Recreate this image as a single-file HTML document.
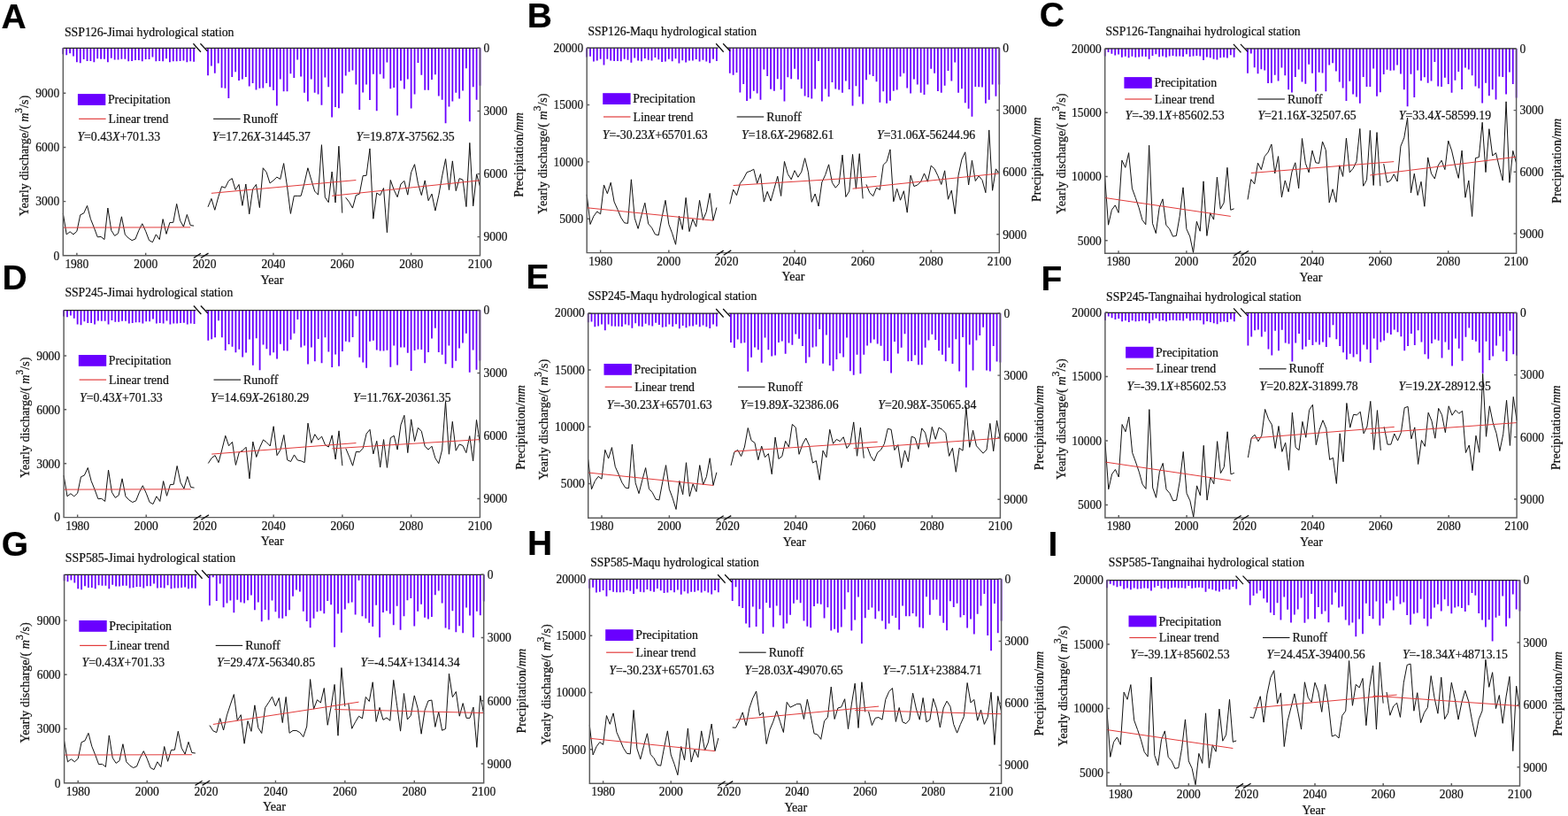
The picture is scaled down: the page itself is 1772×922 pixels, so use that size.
<!DOCTYPE html>
<html><head><meta charset="utf-8"><style>
html,body{margin:0;padding:0;background:#fff;}
svg{display:block;}
text{stroke:#111;stroke-width:0.22px;}
</style></head><body>
<svg width="1772" height="922" viewBox="0 0 1772 922" font-family="Liberation Serif, Times New Roman, serif" font-size="13" fill="#111">
<rect width="1772" height="922" fill="#fff"/>
<path d="M71.3 54.3v6.97M75.19 54.3v7.87M79.08 54.3v6.07M82.97 54.3v9.22M86.86 54.3v15.97M90.75 54.3v16.87M94.64 54.3v12.82M98.53 54.3v14.62M102.42 54.3v14.62M106.31 54.3v15.97M110.2 54.3v11.92M114.09 54.3v12.37M117.98 54.3v12.37M121.87 54.3v15.97M125.76 54.3v11.47M129.65 54.3v13.27M133.54 54.3v13.27M137.43 54.3v12.37M141.32 54.3v12.37M145.21 54.3v15.07M149.1 54.3v14.62M152.99 54.3v13.72M156.88 54.3v13.72M160.77 54.3v15.07M164.66 54.3v12.82M168.55 54.3v12.82M172.44 54.3v10.12M176.33 54.3v15.07M180.22 54.3v14.62M184.11 54.3v15.07M188 54.3v11.92M191.89 54.3v15.97M195.78 54.3v15.07M199.67 54.3v15.07M203.56 54.3v14.62M207.45 54.3v14.17M211.34 54.3v15.97M215.23 54.3v15.07M219.12 54.3v15.52M235 54.3V85.13M238.89 54.3V74.4M242.78 54.3V82.69M246.68 54.3V71.47M250.57 54.3V99.28M254.46 54.3V99.77M258.35 54.3V110.99M262.25 54.3V87.08M266.14 54.3V81.23M270.03 54.3V90.99M273.92 54.3V89.52M277.82 54.3V86.89M281.71 54.3V97.62M285.6 54.3V93.92M289.49 54.3V101.53M293.39 54.3V99.77M297.28 54.3V99.58M301.17 54.3V94.11M305.06 54.3V98.31M308.96 54.3V102.02M312.85 54.3V119.48M316.74 54.3V89.52M320.63 54.3V103.19M324.53 54.3V103.19M328.42 54.3V83.18M332.31 54.3V88.06M336.2 54.3V67.57M340.09 54.3V86.6M343.99 54.3V104.65M347.88 54.3V114.41M351.77 54.3V89.52M355.66 54.3V104.85M359.56 54.3V106.6M363.45 54.3V118.8M367.34 54.3V87.38M371.23 54.3V98.31M375.13 54.3V132.46M379.02 54.3V121.05M382.91 54.3V122.22M386.8 54.3V105.43M390.7 54.3V85.62M394.59 54.3V81.23M398.48 54.3V79.47M402.37 54.3V95.38M406.27 54.3V123.97M410.16 54.3V104.45M414.05 54.3V95.38M417.94 54.3V112.95M421.84 54.3V83.67M425.73 54.3V125.34M429.62 54.3V83.67M433.51 54.3V88.84M437.41 54.3V70.49M441.3 54.3V100.26M445.19 54.3V98.99M449.08 54.3V130.51M452.97 54.3V91.18M456.87 54.3V100.55M460.76 54.3V89.52M464.65 54.3V122.41M468.54 54.3V106.41M472.44 54.3V70.98M476.33 54.3V84.64M480.22 54.3V101.72M484.11 54.3V101.72M488.01 54.3V90.01M491.9 54.3V84.35M495.79 54.3V108.55M499.68 54.3V112.65M503.58 54.3V139.29M507.47 54.3V120.46M511.36 54.3V114.6M515.25 54.3V104.65M519.15 54.3V111.48M523.04 54.3V102.5M526.93 54.3V77.13M530.82 54.3V137.34M534.72 54.3V98.31M538.61 54.3V112.65M542.5 54.3V96.84" stroke="#6a00ff" stroke-width="1.8" fill="none"/>
<polyline points="71.3,241.21 75.19,264.91 79.08,261.82 82.97,264.91 86.86,261.3 90.75,242.76 94.64,241.01 98.53,232.45 102.42,247.39 106.31,257.18 110.2,267.79 114.09,267.48 117.98,270.57 121.87,235.03 125.76,260.27 129.65,266.45 133.54,263.67 137.43,244.82 141.32,264.91 145.21,269.03 149.1,271.61 152.99,270.06 156.88,260.27 160.77,252.75 164.66,261.3 168.55,271.61 172.44,273.67 176.33,264.91 180.22,270.57 184.11,247.6 188,264.39 191.89,251.51 195.78,251.31 199.67,230.39 203.56,249.25 207.45,256.15 211.34,242.45 215.23,254.61 219.12,255.12" fill="none" stroke="#111" stroke-width="1"/>
<polyline points="235,233.81 238.89,224.4 242.78,237.31 246.68,222.88 250.57,210.73 254.46,212.25 258.35,204.36 262.25,201.62 266.14,214.53 270.03,208.46 273.92,232.3 277.82,208 281.71,241.86 285.6,213.77 289.49,208.46 293.39,234.57 297.28,189.78 301.17,194.79 305.06,206.94 308.96,203.9 312.85,200.11 316.74,202.38 320.63,184.62 324.53,210.73 328.42,241.41 332.31,221.36 336.2,221.36 340.09,221.36 343.99,206.94 347.88,189.78 351.77,203.14 355.66,216.05 359.56,220.15 363.45,163.67 367.34,222.88 371.23,228.65 375.13,194.03 379.02,228.96 382.91,165.18 386.8,240.65" fill="none" stroke="#111" stroke-width="1"/>
<polyline points="390.7,223.22 394.59,228.23 398.48,235.07 402.37,220.64 406.27,219.12 410.16,198.61 414.05,198.31 417.94,167.92 421.84,247.22 425.73,218.05 429.62,220.64 433.51,212.59 437.41,262.71 441.3,203.47 445.19,214.56 449.08,222.61 452.97,208.03 456.87,204.38 460.76,220.18 464.65,194.81 468.54,185.7 472.44,207.42 476.33,220.64 480.22,203.93 484.11,226.71 488.01,219.12 491.9,238.11 495.79,220.64 499.68,198.91 503.58,179.62 507.47,214.56 511.36,181.9 515.25,215.62 519.15,201.65 523.04,203.17 526.93,233.55 530.82,161.39 534.72,232.79 538.61,196.79 542.5,210.76" fill="none" stroke="#111" stroke-width="1"/>
<line x1="71.3" y1="257.16" x2="215.23" y2="256.83" stroke="#e23b3b" stroke-width="1"/>
<line x1="238.89" y1="218.33" x2="402.37" y2="203.54" stroke="#e23b3b" stroke-width="1"/>
<line x1="375.13" y1="221.27" x2="542.5" y2="203.84" stroke="#e23b3b" stroke-width="1"/>
<path d="M71.3 54.3H220.92M232.3 54.3H542.5" stroke="#222" stroke-width="1.25" fill="none"/>
<path d="M71.3 54.3V288.8H542.5V54.3M71.3 288.8h3M71.3 227.6h3M71.3 166.4h3M71.3 105.2h3M542.5 54.3h-3M542.5 125.4h-3M542.5 196.5h-3M542.5 267.6h-3M86.86 288.8v-3M164.66 288.8v-3M308.96 288.8v-3M386.8 288.8v-3M464.65 288.8v-3" stroke="#5c5c5c" stroke-width="1.45" fill="none"/>
<path d="M218.42 49.3l8.5 9.5M226.42 49.3l8 8.5M218.92 291.5l8 -5.2M226.92 291.5l8.6 -5.4" stroke="#111" stroke-width="1.3" fill="none"/>
<text transform="translate(67.3,293.6) scale(0.9,1)" font-size="15" text-anchor="end">0</text>
<text transform="translate(67.3,232.4) scale(0.9,1)" font-size="15" text-anchor="end">3000</text>
<text transform="translate(67.3,171.2) scale(0.9,1)" font-size="15" text-anchor="end">6000</text>
<text transform="translate(67.3,110) scale(0.9,1)" font-size="15" text-anchor="end">9000</text>
<text transform="translate(546.5,59.1) scale(0.9,1)" font-size="15">0</text>
<text transform="translate(546.5,130.2) scale(0.9,1)" font-size="15">3000</text>
<text transform="translate(546.5,201.3) scale(0.9,1)" font-size="15">6000</text>
<text transform="translate(546.5,272.4) scale(0.9,1)" font-size="15">9000</text>
<text transform="translate(86.86,302.8) scale(0.9,1)" font-size="15" text-anchor="middle">1980</text>
<text transform="translate(164.66,302.8) scale(0.9,1)" font-size="15" text-anchor="middle">2000</text>
<text transform="translate(231.11,302.8) scale(0.9,1)" font-size="15" text-anchor="middle">2020</text>
<text transform="translate(308.96,302.8) scale(0.9,1)" font-size="15" text-anchor="middle">2040</text>
<text transform="translate(386.8,302.8) scale(0.9,1)" font-size="15" text-anchor="middle">2060</text>
<text transform="translate(464.65,302.8) scale(0.9,1)" font-size="15" text-anchor="middle">2080</text>
<text transform="translate(542.5,302.8) scale(0.9,1)" font-size="15" text-anchor="middle">2100</text>
<text x="307.46" y="320.5" text-anchor="middle" font-size="14">Year</text>
<text transform="translate(31.9,176) rotate(-90)" text-anchor="middle" font-size="14.1">Yearly discharge/( <tspan font-style="italic">m</tspan><tspan font-size="11.5" dy="-7">3</tspan><tspan dy="7">/s)</tspan></text>
<text transform="translate(591.3,175) rotate(-90)" text-anchor="middle" font-size="14">Precipitation/<tspan font-style="italic">mm</tspan></text>
<text x="72.9" y="40.5" font-size="13.8">SSP126-Jimai hydrological station</text>
<text x="1.6" y="31.7" font-family="Liberation Sans, Arial, sans-serif" font-weight="bold" font-size="39" fill="#000" stroke="#000">A</text>
<rect x="87.9" y="106.1" width="31.4" height="12.8" fill="#6a00ff"/>
<text x="121.9" y="117.1" font-size="13.85">Precipitation</text>
<line x1="89.1" y1="134.3" x2="119.6" y2="134.3" stroke="#e23b3b" stroke-width="1.2"/>
<text x="122.6" y="138.8" font-size="13.8">Linear trend</text>
<line x1="241.1" y1="134.3" x2="271.6" y2="134.3" stroke="#111" stroke-width="1.1"/>
<text x="274.6" y="138.8" font-size="14">Runoff</text>
<text transform="translate(87.4,158.6) scale(0.978,1)" font-size="14.1"><tspan font-style="italic">Y</tspan>=0.43<tspan font-style="italic">X</tspan>+701.33</text>
<text transform="translate(239.8,158.6) scale(0.978,1)" font-size="14.1"><tspan font-style="italic">Y</tspan>=17.26<tspan font-style="italic">X</tspan>-31445.37</text>
<text transform="translate(402.5,158.6) scale(0.978,1)" font-size="14.1"><tspan font-style="italic">Y</tspan>=19.87<tspan font-style="italic">X</tspan>-37562.35</text>
<path d="M663.2 54.2v10.35M667.06 54.2v9.44M670.92 54.2v15.31M674.78 54.2v14.41M678.64 54.2v12.6M682.5 54.2v19.38M686.36 54.2v12.6M690.22 54.2v14.41M694.08 54.2v14.86M697.94 54.2v14.86M701.8 54.2v15.04M705.66 54.2v12.6M709.52 54.2v13.51M713.38 54.2v16.67M717.24 54.2v11.25M721.1 54.2v14.41M724.96 54.2v15.04M728.82 54.2v11.7M732.68 54.2v13.51M736.54 54.2v14.41M740.4 54.2v10.8M744.26 54.2v13.06M748.12 54.2v15.76M751.98 54.2v15.31M755.84 54.2v12.6M759.7 54.2v15.04M763.56 54.2v12.15M767.42 54.2v17.39M771.28 54.2v13.96M775.14 54.2v16.22M779 54.2v14.41M782.86 54.2v14.41M786.72 54.2v12.88M790.58 54.2v15.31M794.44 54.2v13.51M798.3 54.2v15.31M802.16 54.2v17.12M806.02 54.2v12.6M809.88 54.2v14.86M824.8 54.2V82.69M828.65 54.2V84.64M832.51 54.2V82.01M836.36 54.2V104.45M840.22 54.2V95.09M844.07 54.2V113.92M847.93 54.2V111.48M851.78 54.2V102.7M855.64 54.2V105.43M859.49 54.2V112.65M863.34 54.2V78.5M867.2 54.2V85.91M871.05 54.2V100.75M874.91 54.2V102.7M878.76 54.2V89.23M882.62 54.2V101.23M886.47 54.2V114.41M890.33 54.2V87.28M894.18 54.2V89.23M898.03 54.2V77.81M901.89 54.2V89.82M905.74 54.2V100.26M909.6 54.2V108.55M913.45 54.2V110.02M917.31 54.2V111.48M921.16 54.2V100.55M925.02 54.2V69.03M928.87 54.2V114.41M932.72 54.2V100.55M936.58 54.2V109.33M940.43 54.2V92.94M944.29 54.2V100.55M948.14 54.2V101.53M952 54.2V104.65M955.85 54.2V91.48M959.71 54.2V100.94M963.56 54.2V119.48M967.41 54.2V97.33M971.27 54.2V109.33M975.12 54.2V117.53M978.98 54.2V90.21M982.83 54.2V84.35M986.69 54.2V85.91M990.54 54.2V92.16M994.39 54.2V115.87M998.25 54.2V103.19M1002.1 54.2V116.85M1005.96 54.2V113.63M1009.81 54.2V102.7M1013.67 54.2V101.53M1017.52 54.2V86.6M1021.38 54.2V82.69M1025.23 54.2V99.58M1029.08 54.2V105.43M1032.94 54.2V89.52M1036.79 54.2V95.38M1040.65 54.2V104.65M1044.5 54.2V107.09M1048.36 54.2V95.38M1052.21 54.2V77.81M1056.07 54.2V82.69M1059.92 54.2V102.89M1063.77 54.2V104.85M1067.63 54.2V96.84M1071.48 54.2V80.06M1075.34 54.2V91.48M1079.19 54.2V70.49M1083.05 54.2V104.65M1086.9 54.2V100.26M1090.76 54.2V116.36M1094.61 54.2V122.7M1098.46 54.2V131.78M1102.32 54.2V98.01M1106.17 54.2V98.31M1110.03 54.2V98.6M1113.88 54.2V116.85M1117.74 54.2V112.65M1121.59 54.2V95.38M1125.45 54.2V108.75M1129.3 54.2V95.38" stroke="#6a00ff" stroke-width="1.8" fill="none"/>
<polyline points="663.2,219.83 667.06,253.46 670.92,244.24 674.78,239.03 678.64,241.85 682.5,208.98 686.36,218.75 690.22,206.27 694.08,227.97 697.94,236.65 701.8,245.87 705.66,251.84 709.52,252.38 713.38,202.8 717.24,246.41 721.1,258.35 724.96,243.16 728.82,229.27 732.68,252.92 736.54,257.26 740.4,264.85 744.26,265.72 748.12,245.33 751.98,226.34 755.84,253.46 759.7,263.77 763.56,276.25 767.42,244.02 771.28,259.43 775.14,223.41 779,261.6 782.86,247.5 786.72,256.18 790.58,226.34 794.44,248.58 798.3,239.36 802.16,218.42 806.02,249.12 809.88,234.48" fill="none" stroke="#111" stroke-width="1"/>
<polyline points="824.8,230.46 828.65,214.16 832.51,220.7 836.36,207.33 840.22,202.16 844.07,194.64 847.93,193.38 851.78,191.23 855.64,207.33 859.49,196.6 863.34,228.12 867.2,216.41 871.05,227.14 874.91,213.19 878.76,199.23 882.62,221.48 886.47,182.45 890.33,196.6 894.18,202.74 898.03,192.69 901.89,200.21 905.74,194.16 909.6,178.74 913.45,194.64 917.31,228.31 921.16,219.04 925.02,233 928.87,205.87 932.72,197.57 936.58,185.86 940.43,206.36 944.29,212.21 948.14,207.62 952,175.13 955.85,222.46 959.71,216.11 963.56,174.44 967.41,213.19 971.27,173.66 975.12,224.41" fill="none" stroke="#111" stroke-width="1"/>
<polyline points="978.98,208.43 982.83,217.7 986.69,221.61 990.54,212.14 994.39,214.48 998.25,186.18 1002.1,182.57 1005.96,168.91 1009.81,227.76 1013.67,213.31 1017.52,226.19 1021.38,215.75 1025.23,240.15 1029.08,198.19 1032.94,210.58 1036.79,208.92 1040.65,205.31 1044.5,195.94 1048.36,205.31 1052.21,187.16 1056.07,190.67 1059.92,198.67 1063.77,208.43 1067.63,192.82 1071.48,225.22 1075.34,215.07 1079.19,241.61 1083.05,198.19 1086.9,180.13 1090.76,171.84 1094.61,208.92 1098.46,181.3 1102.32,204.53 1106.17,198.87 1110.03,203.55 1113.88,217.7 1117.74,146.95 1121.59,215.26 1125.45,190.87 1129.3,195.75" fill="none" stroke="#111" stroke-width="1"/>
<line x1="663.2" y1="234.76" x2="806.02" y2="249.15" stroke="#e23b3b" stroke-width="1"/>
<line x1="828.65" y1="209.54" x2="990.54" y2="199.49" stroke="#e23b3b" stroke-width="1"/>
<line x1="963.56" y1="213.16" x2="1129.3" y2="195.98" stroke="#e23b3b" stroke-width="1"/>
<path d="M663.2 54.2H811.68M822.1 54.2H1129.3" stroke="#222" stroke-width="1.25" fill="none"/>
<path d="M663.2 54.2V285.6H1129.3V54.2M663.2 247.2h3M663.2 182.87h3M663.2 118.53h3M663.2 54.2h3M1129.3 54.2h-3M1129.3 124.4h-3M1129.3 194.6h-3M1129.3 264.8h-3M678.64 285.6v-3M755.84 285.6v-3M898.03 285.6v-3M975.12 285.6v-3M1052.21 285.6v-3" stroke="#5c5c5c" stroke-width="1.45" fill="none"/>
<path d="M809.18 49.2l8.5 9.5M817.18 49.2l8 8.5M809.68 288.3l8 -5.2M817.68 288.3l8.6 -5.4" stroke="#111" stroke-width="1.3" fill="none"/>
<text transform="translate(659.2,252) scale(0.9,1)" font-size="15" text-anchor="end">5000</text>
<text transform="translate(659.2,187.67) scale(0.9,1)" font-size="15" text-anchor="end">10000</text>
<text transform="translate(659.2,123.33) scale(0.9,1)" font-size="15" text-anchor="end">15000</text>
<text transform="translate(659.2,59) scale(0.9,1)" font-size="15" text-anchor="end">20000</text>
<text transform="translate(1133.3,59) scale(0.9,1)" font-size="15">0</text>
<text transform="translate(1133.3,129.2) scale(0.9,1)" font-size="15">3000</text>
<text transform="translate(1133.3,199.4) scale(0.9,1)" font-size="15">6000</text>
<text transform="translate(1133.3,269.6) scale(0.9,1)" font-size="15">9000</text>
<text transform="translate(678.64,299.6) scale(0.9,1)" font-size="15" text-anchor="middle">1980</text>
<text transform="translate(755.84,299.6) scale(0.9,1)" font-size="15" text-anchor="middle">2000</text>
<text transform="translate(820.95,299.6) scale(0.9,1)" font-size="15" text-anchor="middle">2020</text>
<text transform="translate(898.03,299.6) scale(0.9,1)" font-size="15" text-anchor="middle">2040</text>
<text transform="translate(975.12,299.6) scale(0.9,1)" font-size="15" text-anchor="middle">2060</text>
<text transform="translate(1052.21,299.6) scale(0.9,1)" font-size="15" text-anchor="middle">2080</text>
<text transform="translate(1129.3,299.6) scale(0.9,1)" font-size="15" text-anchor="middle">2100</text>
<text x="896.53" y="317.3" text-anchor="middle" font-size="14">Year</text>
<text transform="translate(618,173.7) rotate(-90)" text-anchor="middle" font-size="14.1">Yearly discharge/( <tspan font-style="italic">m</tspan><tspan font-size="11.5" dy="-7">3</tspan><tspan dy="7">/s)</tspan></text>
<text transform="translate(1176.4,180.2) rotate(-90)" text-anchor="middle" font-size="14">Precipitation/<tspan font-style="italic">mm</tspan></text>
<text x="664.5" y="40" font-size="13.56">SSP126-Maqu hydrological station</text>
<text x="595.85" y="30.9" font-family="Liberation Sans, Arial, sans-serif" font-weight="bold" font-size="39" fill="#000" stroke="#000">B</text>
<rect x="681.2" y="105.2" width="31.4" height="12.8" fill="#6a00ff"/>
<text x="715.2" y="116.2" font-size="13.85">Precipitation</text>
<line x1="682" y1="132" x2="712.5" y2="132" stroke="#e23b3b" stroke-width="1.2"/>
<text x="715.5" y="136.5" font-size="13.8">Linear trend</text>
<line x1="832.7" y1="132" x2="863.2" y2="132" stroke="#111" stroke-width="1.1"/>
<text x="866.2" y="136.5" font-size="14">Runoff</text>
<text transform="translate(680.7,157.1) scale(0.978,1)" font-size="14.1"><tspan font-style="italic">Y</tspan>=-30.23<tspan font-style="italic">X</tspan>+65701.63</text>
<text transform="translate(838.1,157.1) scale(0.978,1)" font-size="14.1"><tspan font-style="italic">Y</tspan>=18.6<tspan font-style="italic">X</tspan>-29682.61</text>
<text transform="translate(991,157.1) scale(0.978,1)" font-size="14.1"><tspan font-style="italic">Y</tspan>=31.06<tspan font-style="italic">X</tspan>-56244.96</text>
<path d="M1248.7 54.9v8.64M1252.54 54.9v4.13M1256.38 54.9v5.75M1260.22 54.9v7.56M1264.06 54.9v6.66M1267.9 54.9v9.73M1271.74 54.9v8.82M1275.58 54.9v10.45M1279.42 54.9v8.82M1283.26 54.9v9.73M1287.1 54.9v9.55M1290.94 54.9v8.82M1294.78 54.9v9.1M1298.62 54.9v11.8M1302.46 54.9v8.19M1306.3 54.9v6.39M1310.14 54.9v9.37M1313.98 54.9v8.64M1317.82 54.9v9.73M1321.66 54.9v8.64M1325.5 54.9v8.19M1329.34 54.9v8.82M1333.18 54.9v8.64M1337.02 54.9v9.1M1340.86 54.9v6.39M1344.7 54.9v9.1M1348.54 54.9v8.64M1352.38 54.9v8.19M1356.22 54.9v8.64M1360.06 54.9v12.98M1363.9 54.9v9.55M1367.74 54.9v10.45M1371.58 54.9v11.8M1375.42 54.9v12.71M1379.26 54.9v10.27M1383.1 54.9v9.73M1386.94 54.9v10.63M1390.78 54.9v7.29M1394.62 54.9v9.73M1410 54.9V82.69M1413.84 54.9V60.54M1417.69 54.9V76.15M1421.53 54.9V83.18M1425.37 54.9V78.3M1429.22 54.9V79.47M1433.06 54.9V94.11M1436.9 54.9V93.72M1440.74 54.9V84.64M1444.59 54.9V91.48M1448.43 54.9V76.54M1452.27 54.9V85.13M1456.12 54.9V101.23M1459.96 54.9V104.45M1463.8 54.9V86.89M1467.65 54.9V78.5M1471.49 54.9V92.45M1475.33 54.9V94.7M1479.17 54.9V72.64M1483.02 54.9V82.69M1486.86 54.9V103.48M1490.7 54.9V81.72M1494.55 54.9V82.4M1498.39 54.9V103.19M1502.23 54.9V73.42M1506.08 54.9V71.27M1509.92 54.9V80.45M1513.76 54.9V92.45M1517.61 54.9V99.58M1521.45 54.9V113.92M1525.29 54.9V91.77M1529.13 54.9V106.41M1532.98 54.9V109.53M1536.82 54.9V116.85M1540.66 54.9V86.89M1544.51 54.9V98.01M1548.35 54.9V98.01M1552.19 54.9V77.52M1556.04 54.9V108.75M1559.88 54.9V104.16M1563.72 54.9V83.96M1567.56 54.9V78.79M1571.41 54.9V79.76M1575.25 54.9V79.47M1579.09 54.9V73.42M1582.94 54.9V83.38M1586.78 54.9V101.23M1590.62 54.9V120.26M1594.47 54.9V83.67M1598.31 54.9V110.02M1602.15 54.9V79.47M1605.99 54.9V91.18M1609.84 54.9V87.28M1613.68 54.9V93.72M1617.52 54.9V91.48M1621.37 54.9V70.01M1625.21 54.9V97.62M1629.05 54.9V98.01M1632.9 54.9V87.86M1636.74 54.9V95.09M1640.58 54.9V104.65M1644.43 54.9V90.79M1648.27 54.9V81.03M1652.11 54.9V100.94M1655.95 54.9V76.54M1659.8 54.9V78.5M1663.64 54.9V85.13M1667.48 54.9V97.62M1671.33 54.9V99.77M1675.17 54.9V116.56M1679.01 54.9V93.72M1682.86 54.9V108.36M1686.7 54.9V101.23M1690.54 54.9V112.46M1694.38 54.9V86.6M1698.23 54.9V86.89M1702.07 54.9V106.41M1705.91 54.9V81.42M1709.76 54.9V95.09M1713.6 54.9V110.51" stroke="#6a00ff" stroke-width="1.8" fill="none"/>
<polyline points="1248.7,200.88 1252.54,254.16 1256.38,237.25 1260.22,231.89 1264.06,240.35 1267.9,181.14 1271.74,189.32 1275.58,172.69 1279.42,212.86 1283.26,223.43 1287.1,234.71 1290.94,248.53 1294.78,253.74 1298.62,164.23 1302.46,252.33 1306.3,263.61 1310.14,234.71 1313.98,224.84 1317.82,254.16 1321.66,258.67 1325.5,267.13 1329.34,266.43 1333.18,244.3 1337.02,211.87 1340.86,258.67 1344.7,267.13 1348.54,285.46 1352.38,250.22 1356.22,261.21 1360.06,204.83 1363.9,266.43 1367.74,240.63 1371.58,248.1 1375.42,200.17 1379.26,236.12 1383.1,229.07 1386.94,189.32 1390.78,237.25 1394.62,235.84" fill="none" stroke="#111" stroke-width="1"/>
<polyline points="1410,225.44 1413.84,202.66 1417.69,207.87 1421.53,184.19 1425.37,191.6 1429.22,176.64 1433.06,172.09 1436.9,162.98 1440.74,195.9 1444.59,176.64 1448.43,222.83 1452.27,203.97 1456.12,216.72 1459.96,194.21 1463.8,183.8 1467.65,212.81 1471.49,156.47 1475.33,184.45 1479.17,194.86 1483.02,170.13 1486.86,183.8 1490.7,184.45 1494.55,159.98 1498.39,169.87 1502.23,228.95 1506.08,213.72 1509.92,228.43 1513.76,186.79 1517.61,199.41 1521.45,156.08 1525.29,194.86 1529.13,190.3 1532.98,182.5 1536.82,145.41 1540.66,210.21 1544.51,203.31 1548.35,147.36 1552.19,209.43 1556.04,149.57 1559.88,210.21" fill="none" stroke="#111" stroke-width="1"/>
<polyline points="1563.72,185.1 1567.56,205.92 1571.41,203.97 1575.25,196.81 1579.09,205.01 1582.94,165.19 1586.78,155.82 1590.62,133.18 1594.47,218.02 1598.31,196.16 1602.15,220.62 1605.99,205.27 1609.84,233.24 1613.68,177.94 1617.52,196.16 1621.37,202.01 1625.21,187.05 1629.05,181.19 1632.9,191.6 1636.74,159.07 1640.58,170.13 1644.43,187.05 1648.27,201.36 1652.11,170.13 1655.95,223.22 1659.8,203.97 1663.64,244.56 1667.48,178.59 1671.33,177.68 1675.17,138.25 1679.01,194.6 1682.86,145.67 1686.7,175.99 1690.54,172.74 1694.38,189 1698.23,203.97 1702.07,114.83 1705.91,206.31 1709.76,170.39 1713.6,184.45" fill="none" stroke="#111" stroke-width="1"/>
<line x1="1248.7" y1="223.49" x2="1390.78" y2="244.41" stroke="#e23b3b" stroke-width="1"/>
<line x1="1413.84" y1="195.48" x2="1575.25" y2="182.63" stroke="#e23b3b" stroke-width="1"/>
<line x1="1548.35" y1="197.99" x2="1713.6" y2="177.22" stroke="#e23b3b" stroke-width="1"/>
<path d="M1248.7 54.9H1396.42M1407.3 54.9H1713.6" stroke="#222" stroke-width="1.25" fill="none"/>
<path d="M1248.7 54.9V286.2H1713.6V54.9M1248.7 271.8h3M1248.7 199.5h3M1248.7 127.2h3M1248.7 54.9h3M1713.6 54.9h-3M1713.6 124.6h-3M1713.6 194.3h-3M1713.6 264h-3M1264.06 286.2v-3M1340.86 286.2v-3M1483.02 286.2v-3M1559.88 286.2v-3M1636.74 286.2v-3" stroke="#5c5c5c" stroke-width="1.45" fill="none"/>
<path d="M1393.92 49.9l8.5 9.5M1401.92 49.9l8 8.5M1394.42 288.9l8 -5.2M1402.42 288.9l8.6 -5.4" stroke="#111" stroke-width="1.3" fill="none"/>
<text transform="translate(1244.7,276.6) scale(0.9,1)" font-size="15" text-anchor="end">5000</text>
<text transform="translate(1244.7,204.3) scale(0.9,1)" font-size="15" text-anchor="end">10000</text>
<text transform="translate(1244.7,132) scale(0.9,1)" font-size="15" text-anchor="end">15000</text>
<text transform="translate(1244.7,59.7) scale(0.9,1)" font-size="15" text-anchor="end">20000</text>
<text transform="translate(1717.6,59.7) scale(0.9,1)" font-size="15">0</text>
<text transform="translate(1717.6,129.4) scale(0.9,1)" font-size="15">3000</text>
<text transform="translate(1717.6,199.1) scale(0.9,1)" font-size="15">6000</text>
<text transform="translate(1717.6,268.8) scale(0.9,1)" font-size="15">9000</text>
<text transform="translate(1264.06,300.2) scale(0.9,1)" font-size="15" text-anchor="middle">1980</text>
<text transform="translate(1340.86,300.2) scale(0.9,1)" font-size="15" text-anchor="middle">2000</text>
<text transform="translate(1406.16,300.2) scale(0.9,1)" font-size="15" text-anchor="middle">2020</text>
<text transform="translate(1483.02,300.2) scale(0.9,1)" font-size="15" text-anchor="middle">2040</text>
<text transform="translate(1559.88,300.2) scale(0.9,1)" font-size="15" text-anchor="middle">2060</text>
<text transform="translate(1636.74,300.2) scale(0.9,1)" font-size="15" text-anchor="middle">2080</text>
<text transform="translate(1713.6,300.2) scale(0.9,1)" font-size="15" text-anchor="middle">2100</text>
<text x="1481.52" y="317.9" text-anchor="middle" font-size="14">Year</text>
<text transform="translate(1203.5,173.8) rotate(-90)" text-anchor="middle" font-size="14.1">Yearly discharge/( <tspan font-style="italic">m</tspan><tspan font-size="11.5" dy="-7">3</tspan><tspan dy="7">/s)</tspan></text>
<text transform="translate(1764,181.8) rotate(-90)" text-anchor="middle" font-size="14">Precipitation/<tspan font-style="italic">mm</tspan></text>
<text x="1249.5" y="39.7" font-size="13.63">SSP126-Tangnaihai hydrological station</text>
<text x="1174.75" y="29.9" font-family="Liberation Sans, Arial, sans-serif" font-weight="bold" font-size="39" fill="#000" stroke="#000">C</text>
<rect x="1270.4" y="87.1" width="31.4" height="12.8" fill="#6a00ff"/>
<text x="1304.4" y="98.1" font-size="13.85">Precipitation</text>
<line x1="1271.2" y1="112" x2="1301.7" y2="112" stroke="#e23b3b" stroke-width="1.2"/>
<text x="1304.7" y="116.5" font-size="13.8">Linear trend</text>
<line x1="1421.4" y1="112" x2="1451.9" y2="112" stroke="#111" stroke-width="1.1"/>
<text x="1454.9" y="116.5" font-size="14">Runoff</text>
<text transform="translate(1271.6,135) scale(0.978,1)" font-size="14.1"><tspan font-style="italic">Y</tspan>=-39.1<tspan font-style="italic">X</tspan>+85602.53</text>
<text transform="translate(1421.4,134.6) scale(0.978,1)" font-size="14.1"><tspan font-style="italic">Y</tspan>=21.16<tspan font-style="italic">X</tspan>-32507.65</text>
<text transform="translate(1580.8,134.6) scale(0.978,1)" font-size="14.1"><tspan font-style="italic">Y</tspan>=33.4<tspan font-style="italic">X</tspan>-58599.19</text>
<path d="M72.1 350.5v6.96M75.98 350.5v7.86M79.86 350.5v6.06M83.74 350.5v9.21M87.62 350.5v15.95M91.5 350.5v16.85M95.38 350.5v12.8M99.26 350.5v14.6M103.14 350.5v14.6M107.02 350.5v15.95M110.9 350.5v11.9M114.78 350.5v12.35M118.66 350.5v12.35M122.54 350.5v15.95M126.42 350.5v11.45M130.3 350.5v13.25M134.18 350.5v13.25M138.06 350.5v12.35M141.94 350.5v12.35M145.82 350.5v15.05M149.7 350.5v14.6M153.58 350.5v13.7M157.46 350.5v13.7M161.34 350.5v15.05M165.22 350.5v12.8M169.1 350.5v12.8M172.98 350.5v10.1M176.86 350.5v15.05M180.74 350.5v14.6M184.62 350.5v15.05M188.5 350.5v11.9M192.38 350.5v15.95M196.26 350.5v15.05M200.14 350.5v15.05M204.02 350.5v14.6M207.9 350.5v14.15M211.78 350.5v15.95M215.66 350.5v15.05M219.54 350.5v15.5M235.3 350.5V384.82M239.19 350.5V383.26M243.07 350.5V381.3M246.96 350.5V362.37M250.85 350.5V381.3M254.74 350.5V395.94M258.62 350.5V389.11M262.51 350.5V391.65M266.4 350.5V398.19M270.29 350.5V394.77M274.17 350.5V403.55M278.06 350.5V398.48M281.95 350.5V383.55M285.84 350.5V412.82M289.72 350.5V382.28M293.61 350.5V418.19M297.5 350.5V389.4M301.38 350.5V394.28M305.27 350.5V401.41M309.16 350.5V398.19M313.05 350.5V405.51M316.93 350.5V388.72M320.82 350.5V396.23M324.71 350.5V396.53M328.6 350.5V383.84M332.48 350.5V376.72M336.37 350.5V361.1M340.26 350.5V392.62M344.15 350.5V390.38M348.03 350.5V411.56M351.92 350.5V392.62M355.81 350.5V408.24M359.69 350.5V383.06M363.58 350.5V410.19M367.47 350.5V381.3M371.36 350.5V397.5M375.24 350.5V415.07M379.13 350.5V400.43M383.02 350.5V413.8M386.91 350.5V396.92M390.79 350.5V385.79M394.68 350.5V386.48M398.57 350.5V380.91M402.46 350.5V357.2M406.34 350.5V403.75M410.23 350.5V409.6M414.12 350.5V415.75M418.01 350.5V385.79M421.89 350.5V384.82M425.78 350.5V395.55M429.67 350.5V396.53M433.55 350.5V396.53M437.44 350.5V395.75M441.33 350.5V414.78M445.22 350.5V390.38M449.1 350.5V412.53M452.99 350.5V392.62M456.88 350.5V392.62M460.77 350.5V398.67M464.65 350.5V418.97M468.54 350.5V395.94M472.43 350.5V394.77M476.32 350.5V394.97M480.2 350.5V410.19M484.09 350.5V397.89M487.98 350.5V382.57M491.86 350.5V370.86M495.75 350.5V397.89M499.64 350.5V400.82M503.53 350.5V411.36M507.41 350.5V390.38M511.3 350.5V415.75M515.19 350.5V407.65M519.08 350.5V393.6M522.96 350.5V387.45M526.85 350.5V376.72M530.74 350.5V420.63M534.63 350.5V395.55M538.51 350.5V417.7M542.4 350.5V407.46" stroke="#6a00ff" stroke-width="1.8" fill="none"/>
<polyline points="72.1,537.24 75.98,560.83 79.86,557.75 83.74,560.83 87.62,557.24 91.5,538.78 95.38,537.04 99.26,528.53 103.14,543.4 107.02,553.14 110.9,563.7 114.78,563.39 118.66,566.46 122.54,531.09 126.42,556.21 130.3,562.36 134.18,559.6 138.06,540.83 141.94,560.83 145.82,564.93 149.7,567.49 153.58,565.95 157.46,556.21 161.34,548.73 165.22,557.24 169.1,567.49 172.98,569.54 176.86,560.83 180.74,566.46 184.62,543.6 188.5,560.31 192.38,547.5 196.26,547.29 200.14,526.48 204.02,545.24 207.9,552.11 211.78,538.48 215.66,550.57 219.54,551.09" fill="none" stroke="#111" stroke-width="1"/>
<polyline points="235.3,523.5 239.19,517.53 243.07,514.6 246.96,522.63 250.85,508.1 254.74,492.27 258.62,503.76 262.51,499.42 266.4,525.45 270.29,511.03 274.17,509.18 278.06,505.28 281.95,540.85 285.84,499.1 289.72,516.45 293.61,505.6 297.5,496.93 301.38,499.86 305.27,503.98 309.16,481.75 313.05,514.6 316.93,508.1 320.82,491.51 324.71,519.7 328.6,521.54 332.48,513.95 336.37,520.03 340.26,520.79 344.15,522.63 348.03,478.17 351.92,500.51 355.81,490.75 359.69,496.93 363.58,493.13 367.47,502.68 371.36,505.06 375.24,491.83 379.13,518.94 383.02,486.84 386.91,526.21" fill="none" stroke="#111" stroke-width="1"/>
<polyline points="390.79,506.7 394.68,515.92 398.57,526.23 402.46,510.28 406.34,510.72 410.23,506.38 414.12,490.11 418.01,485.34 421.89,512.89 425.78,498.35 429.67,528.07 433.55,496.62 437.44,528.39 441.33,494.77 445.22,492.28 449.1,508.11 452.99,479.91 456.88,469.28 460.77,511.58 464.65,473.84 468.54,498.57 472.43,483.38 476.32,487.18 480.2,504.21 484.09,508.11 487.98,504.21 491.86,517.55 495.75,523.73 499.64,508.11 503.53,453.56 507.41,513.21 511.3,476.33 515.19,509.2 519.08,502.04 522.96,503.45 526.85,511.58 530.74,492.6 534.63,520.8 538.51,474.49 542.4,500.74" fill="none" stroke="#111" stroke-width="1"/>
<line x1="72.1" y1="553.11" x2="215.66" y2="552.79" stroke="#e23b3b" stroke-width="1"/>
<line x1="239.19" y1="513.09" x2="402.46" y2="500.56" stroke="#e23b3b" stroke-width="1"/>
<line x1="375.24" y1="506.87" x2="542.4" y2="496.61" stroke="#e23b3b" stroke-width="1"/>
<path d="M72.1 350.5H221.34M232.6 350.5H542.4" stroke="#222" stroke-width="1.25" fill="none"/>
<path d="M72.1 350.5V584.6H542.4V350.5M72.1 584.6h3M72.1 523.7h3M72.1 462.8h3M72.1 401.9h3M542.4 350.5h-3M542.4 421.5h-3M542.4 492.5h-3M542.4 563.5h-3M87.62 584.6v-3M165.22 584.6v-3M309.16 584.6v-3M386.91 584.6v-3M464.65 584.6v-3" stroke="#5c5c5c" stroke-width="1.45" fill="none"/>
<path d="M218.84 345.5l8.5 9.5M226.84 345.5l8 8.5M219.34 587.3l8 -5.2M227.34 587.3l8.6 -5.4" stroke="#111" stroke-width="1.3" fill="none"/>
<text transform="translate(68.1,589.4) scale(0.9,1)" font-size="15" text-anchor="end">0</text>
<text transform="translate(68.1,528.5) scale(0.9,1)" font-size="15" text-anchor="end">3000</text>
<text transform="translate(68.1,467.6) scale(0.9,1)" font-size="15" text-anchor="end">6000</text>
<text transform="translate(68.1,406.7) scale(0.9,1)" font-size="15" text-anchor="end">9000</text>
<text transform="translate(546.4,355.3) scale(0.9,1)" font-size="15">0</text>
<text transform="translate(546.4,426.3) scale(0.9,1)" font-size="15">3000</text>
<text transform="translate(546.4,497.3) scale(0.9,1)" font-size="15">6000</text>
<text transform="translate(546.4,568.3) scale(0.9,1)" font-size="15">9000</text>
<text transform="translate(87.62,598.6) scale(0.9,1)" font-size="15" text-anchor="middle">1980</text>
<text transform="translate(165.22,598.6) scale(0.9,1)" font-size="15" text-anchor="middle">2000</text>
<text transform="translate(231.41,598.6) scale(0.9,1)" font-size="15" text-anchor="middle">2020</text>
<text transform="translate(309.16,598.6) scale(0.9,1)" font-size="15" text-anchor="middle">2040</text>
<text transform="translate(386.91,598.6) scale(0.9,1)" font-size="15" text-anchor="middle">2060</text>
<text transform="translate(464.65,598.6) scale(0.9,1)" font-size="15" text-anchor="middle">2080</text>
<text transform="translate(542.4,598.6) scale(0.9,1)" font-size="15" text-anchor="middle">2100</text>
<text x="307.66" y="616.3" text-anchor="middle" font-size="14">Year</text>
<text transform="translate(32.6,471.8) rotate(-90)" text-anchor="middle" font-size="14.1">Yearly discharge/( <tspan font-style="italic">m</tspan><tspan font-size="11.5" dy="-7">3</tspan><tspan dy="7">/s)</tspan></text>
<text transform="translate(592.8,482.9) rotate(-90)" text-anchor="middle" font-size="14">Precipitation/<tspan font-style="italic">mm</tspan></text>
<text x="73.4" y="334.9" font-size="13.68">SSP245-Jimai hydrological station</text>
<text x="2.55" y="327" font-family="Liberation Sans, Arial, sans-serif" font-weight="bold" font-size="39" fill="#000" stroke="#000">D</text>
<rect x="88.8" y="401" width="31.4" height="12.8" fill="#6a00ff"/>
<text x="122.8" y="412" font-size="13.85">Precipitation</text>
<line x1="89.6" y1="429.1" x2="120.1" y2="429.1" stroke="#e23b3b" stroke-width="1.2"/>
<text x="123.1" y="433.6" font-size="13.8">Linear trend</text>
<line x1="241.5" y1="429.1" x2="272" y2="429.1" stroke="#111" stroke-width="1.1"/>
<text x="275" y="433.6" font-size="14">Runoff</text>
<text transform="translate(90,454.3) scale(0.978,1)" font-size="14.1"><tspan font-style="italic">Y</tspan>=0.43<tspan font-style="italic">X</tspan>+701.33</text>
<text transform="translate(238.1,454.3) scale(0.978,1)" font-size="14.1"><tspan font-style="italic">Y</tspan>=14.69<tspan font-style="italic">X</tspan>-26180.29</text>
<text transform="translate(399,454.3) scale(0.978,1)" font-size="14.1"><tspan font-style="italic">Y</tspan>=11.76<tspan font-style="italic">X</tspan>-20361.35</text>
<path d="M664.7 354v10.33M668.52 354v9.43M672.34 354v15.29M676.16 354v14.39M679.98 354v12.59M683.8 354v19.35M687.62 354v12.59M691.44 354v14.39M695.26 354v14.84M699.08 354v14.84M702.9 354v15.02M706.72 354v12.59M710.54 354v13.49M714.36 354v16.64M718.18 354v11.23M722 354v14.39M725.82 354v15.02M729.64 354v11.68M733.46 354v13.49M737.28 354v14.39M741.1 354v10.78M744.92 354v13.04M748.74 354v15.74M752.56 354v15.29M756.38 354v12.59M760.2 354v15.02M764.02 354v12.14M767.84 354v17.37M771.66 354v13.94M775.48 354v16.19M779.3 354v14.39M783.12 354v14.39M786.94 354v12.86M790.76 354v15.29M794.58 354v13.49M798.4 354v15.29M802.22 354v17.09M806.04 354v12.59M809.86 354v14.84M826 354V387.04M829.85 354V393.09M833.71 354V383.62M837.56 354V387.82M841.41 354V387.23M845.27 354V419.73M849.12 354V403.82M852.97 354V392.4M856.83 354V395.33M860.68 354V409.68M864.53 354V381.38M868.38 354V395.33M872.24 354V402.45M876.09 354V401.48M879.94 354V387.04M883.8 354V385.57M887.65 354V399.72M891.5 354V387.52M895.36 354V389.77M899.21 354V377.47M903.06 354V382.64M906.92 354V390.94M910.77 354V410.26M914.62 354V403.43M918.48 354V392.4M922.33 354V391.43M926.18 354V371.91M930.04 354V410.65M933.89 354V378.45M937.74 354V412.9M941.59 354V419.24M945.45 354V406.07M949.3 354V399.23M953.15 354V403.43M957.01 354V381.38M960.86 354V419.24M964.71 354V423.63M968.57 354V400.7M972.42 354V422.36M976.27 354V400.7M980.13 354V390.45M983.98 354V387.52M987.83 354V383.62M991.69 354V388.5M995.54 354V390.74M999.39 354V407.72M1003.25 354V408.02M1007.1 354V421.39M1010.95 354V386.06M1014.81 354V399.53M1018.66 354V392.7M1022.51 354V377.28M1026.36 354V408.31M1030.22 354V408.02M1034.07 354V401.19M1037.92 354V412.21M1041.78 354V412.21M1045.63 354V392.7M1049.48 354V384.6M1053.34 354V377.76M1057.19 354V383.91M1061.04 354V396.31M1064.9 354V400.7M1068.75 354V408.31M1072.6 354V392.7M1076.46 354V410.95M1080.31 354V383.33M1084.16 354V419.44M1088.02 354V380.99M1091.87 354V437.78M1095.72 354V389.48M1099.57 354V418.46M1103.43 354V384.6M1107.28 354V379.03M1111.13 354V369.66M1114.99 354V418.46M1118.84 354V419.44M1122.69 354V390.94M1126.55 354V408.51M1130.4 354V409.48" stroke="#6a00ff" stroke-width="1.8" fill="none"/>
<polyline points="664.7,519.15 668.52,552.76 672.34,543.54 676.16,538.34 679.98,541.16 683.8,508.3 687.62,518.06 691.44,505.59 695.26,527.28 699.08,535.95 702.9,545.17 706.72,551.13 710.54,551.68 714.36,502.12 718.18,545.71 722,557.64 725.82,542.46 729.64,528.58 733.46,552.22 737.28,556.56 741.1,564.15 744.92,565.01 748.74,544.63 752.56,525.65 756.38,552.76 760.2,563.06 764.02,575.53 767.84,543.33 771.66,558.72 775.48,522.72 779.3,560.89 783.12,546.8 786.94,555.47 790.76,525.65 794.58,547.88 798.4,538.66 802.22,517.74 806.04,548.42 809.86,533.78" fill="none" stroke="#111" stroke-width="1"/>
<polyline points="826,525.99 829.85,510.87 833.71,508.43 837.56,515.55 841.41,505.01 845.27,483.54 849.12,497.69 852.97,500.33 856.83,519.65 860.68,504.04 864.53,516.72 868.38,512.62 872.24,535.75 876.09,494.08 879.94,518.48 883.8,515.55 887.65,498.38 891.5,505.21 895.36,479.44 899.21,483.05 903.06,513.31 906.92,502.08 910.77,495.06 914.62,503.55 918.48,523.07 922.33,520.63 926.18,542.29 930.04,509.11 933.89,516.72 937.74,485.3 941.59,501.3 945.45,496.42 949.3,498.67 953.15,493.79 957.01,506.48 960.86,501.3 964.71,476.91 968.57,515.26 972.42,483.05 976.27,517.7" fill="none" stroke="#111" stroke-width="1"/>
<polyline points="980.13,505.01 983.98,515.39 987.83,520.88 991.69,511.33 995.54,508.23 999.39,501.43 1003.25,484.38 1007.1,485.33 1010.95,508.59 1014.81,502.63 1018.66,528.51 1022.51,508.95 1026.36,521.71 1030.22,493.08 1034.07,494.87 1037.92,507.4 1041.78,483.9 1045.63,489.15 1049.48,505.37 1053.34,482.35 1057.19,496.3 1061.04,483.18 1064.9,485.33 1068.75,489.5 1072.6,515.39 1076.46,506.21 1080.31,533.28 1084.16,506.21 1088.02,509.19 1091.87,459.68 1095.72,505.37 1099.57,486.28 1103.43,503.82 1107.28,507.99 1111.13,512.17 1114.99,507.99 1118.84,478.41 1122.69,509.78 1126.55,475.19 1130.4,496.07" fill="none" stroke="#111" stroke-width="1"/>
<line x1="664.7" y1="534.06" x2="806.04" y2="548.45" stroke="#e23b3b" stroke-width="1"/>
<line x1="829.85" y1="510.09" x2="991.69" y2="499.34" stroke="#e23b3b" stroke-width="1"/>
<line x1="964.71" y1="506.76" x2="1130.4" y2="495.16" stroke="#e23b3b" stroke-width="1"/>
<path d="M664.7 354H811.66M823.3 354H1130.4" stroke="#222" stroke-width="1.25" fill="none"/>
<path d="M664.7 354V585.3H1130.4V354M664.7 546.5h3M664.7 482.2h3M664.7 417.9h3M664.7 353.6h3M1130.4 354h-3M1130.4 424.1h-3M1130.4 494.2h-3M1130.4 564.3h-3M679.98 585.3v-3M756.38 585.3v-3M899.21 585.3v-3M976.27 585.3v-3M1053.34 585.3v-3" stroke="#5c5c5c" stroke-width="1.45" fill="none"/>
<path d="M809.16 349l8.5 9.5M817.16 349l8 8.5M809.66 588l8 -5.2M817.66 588l8.6 -5.4" stroke="#111" stroke-width="1.3" fill="none"/>
<text transform="translate(660.7,551.3) scale(0.9,1)" font-size="15" text-anchor="end">5000</text>
<text transform="translate(660.7,487) scale(0.9,1)" font-size="15" text-anchor="end">10000</text>
<text transform="translate(660.7,422.7) scale(0.9,1)" font-size="15" text-anchor="end">15000</text>
<text transform="translate(660.7,358.4) scale(0.9,1)" font-size="15" text-anchor="end">20000</text>
<text transform="translate(1134.4,358.8) scale(0.9,1)" font-size="15">0</text>
<text transform="translate(1134.4,428.9) scale(0.9,1)" font-size="15">3000</text>
<text transform="translate(1134.4,499) scale(0.9,1)" font-size="15">6000</text>
<text transform="translate(1134.4,569.1) scale(0.9,1)" font-size="15">9000</text>
<text transform="translate(679.98,599.3) scale(0.9,1)" font-size="15" text-anchor="middle">1980</text>
<text transform="translate(756.38,599.3) scale(0.9,1)" font-size="15" text-anchor="middle">2000</text>
<text transform="translate(822.15,599.3) scale(0.9,1)" font-size="15" text-anchor="middle">2020</text>
<text transform="translate(899.21,599.3) scale(0.9,1)" font-size="15" text-anchor="middle">2040</text>
<text transform="translate(976.27,599.3) scale(0.9,1)" font-size="15" text-anchor="middle">2060</text>
<text transform="translate(1053.34,599.3) scale(0.9,1)" font-size="15" text-anchor="middle">2080</text>
<text transform="translate(1130.4,599.3) scale(0.9,1)" font-size="15" text-anchor="middle">2100</text>
<text x="897.71" y="617" text-anchor="middle" font-size="14">Year</text>
<text transform="translate(619.1,474) rotate(-90)" text-anchor="middle" font-size="14.1">Yearly discharge/( <tspan font-style="italic">m</tspan><tspan font-size="11.5" dy="-7">3</tspan><tspan dy="7">/s)</tspan></text>
<text transform="translate(1179,483.3) rotate(-90)" text-anchor="middle" font-size="14">Precipitation/<tspan font-style="italic">mm</tspan></text>
<text x="664.4" y="338.7" font-size="13.59">SSP245-Maqu hydrological station</text>
<text x="594.4" y="325.8" font-family="Liberation Sans, Arial, sans-serif" font-weight="bold" font-size="39" fill="#000" stroke="#000">E</text>
<rect x="682.5" y="411" width="31.4" height="12.8" fill="#6a00ff"/>
<text x="716.5" y="422" font-size="13.85">Precipitation</text>
<line x1="683.7" y1="437.2" x2="714.2" y2="437.2" stroke="#e23b3b" stroke-width="1.2"/>
<text x="717.2" y="441.7" font-size="13.8">Linear trend</text>
<line x1="834" y1="437.2" x2="864.5" y2="437.2" stroke="#111" stroke-width="1.1"/>
<text x="867.5" y="441.7" font-size="14">Runoff</text>
<text transform="translate(685.7,461.8) scale(0.978,1)" font-size="14.1"><tspan font-style="italic">Y</tspan>=-30.23<tspan font-style="italic">X</tspan>+65701.63</text>
<text transform="translate(836.4,461.8) scale(0.978,1)" font-size="14.1"><tspan font-style="italic">Y</tspan>=19.89<tspan font-style="italic">X</tspan>-32386.06</text>
<text transform="translate(992.2,462.2) scale(0.978,1)" font-size="14.1"><tspan font-style="italic">Y</tspan>=20.98<tspan font-style="italic">X</tspan>-35065.84</text>
<path d="M1248.9 353.4v8.71M1252.74 353.4v4.16M1256.58 353.4v5.8M1260.42 353.4v7.61M1264.26 353.4v6.71M1268.1 353.4v9.8M1271.94 353.4v8.89M1275.78 353.4v10.52M1279.62 353.4v8.89M1283.46 353.4v9.8M1287.3 353.4v9.62M1291.14 353.4v8.89M1294.98 353.4v9.16M1298.82 353.4v11.89M1302.66 353.4v8.25M1306.5 353.4v6.43M1310.34 353.4v9.43M1314.18 353.4v8.71M1318.02 353.4v9.8M1321.86 353.4v8.71M1325.7 353.4v8.25M1329.54 353.4v8.89M1333.38 353.4v8.71M1337.22 353.4v9.16M1341.06 353.4v6.43M1344.9 353.4v9.16M1348.74 353.4v8.71M1352.58 353.4v8.25M1356.42 353.4v8.71M1360.26 353.4v13.07M1364.1 353.4v9.62M1367.94 353.4v10.52M1371.78 353.4v11.89M1375.62 353.4v12.8M1379.46 353.4v10.34M1383.3 353.4v9.8M1387.14 353.4v10.71M1390.98 353.4v7.34M1394.82 353.4v9.8M1410.4 353.4V390.43M1414.24 353.4V380.38M1418.09 353.4V373.15M1421.93 353.4V372.57M1425.78 353.4V380.38M1429.62 353.4V374.81M1433.47 353.4V394.62M1437.31 353.4V401.45M1441.15 353.4V373.84M1445 353.4V396.28M1448.84 353.4V372.86M1452.69 353.4V387.5M1456.53 353.4V388.48M1460.38 353.4V408.48M1464.22 353.4V387.5M1468.06 353.4V377.06M1471.91 353.4V394.82M1475.75 353.4V391.4M1479.6 353.4V384.08M1483.44 353.4V389.94M1487.29 353.4V386.52M1491.13 353.4V389.45M1494.97 353.4V386.52M1498.82 353.4V391.89M1502.66 353.4V381.35M1506.51 353.4V367.3M1510.35 353.4V383.3M1514.2 353.4V391.11M1518.04 353.4V398.23M1521.88 353.4V406.33M1525.73 353.4V399.7M1529.57 353.4V403.41M1533.42 353.4V400.19M1537.26 353.4V408.48M1541.11 353.4V389.45M1544.95 353.4V394.82M1548.79 353.4V409.95M1552.64 353.4V382.62M1556.48 353.4V395.31M1560.33 353.4V386.52M1564.17 353.4V384.86M1568.02 353.4V376.28M1571.86 353.4V378.03M1575.71 353.4V372.57M1579.55 353.4V375.3M1583.39 353.4V380.18M1587.24 353.4V396.28M1591.08 353.4V390.92M1594.93 353.4V377.06M1598.77 353.4V389.94M1602.62 353.4V373.35M1606.46 353.4V386.52M1610.3 353.4V400.19M1614.15 353.4V405.55M1617.99 353.4V387.99M1621.84 353.4V383.6M1625.68 353.4V384.86M1629.53 353.4V404.38M1633.37 353.4V386.52M1637.21 353.4V395.31M1641.06 353.4V413.56M1644.9 353.4V382.62M1648.75 353.4V393.84M1652.59 353.4V407.7M1656.44 353.4V380.67M1660.28 353.4V370.62M1664.12 353.4V383.89M1667.97 353.4V385.84M1671.81 353.4V398.53M1675.66 353.4V421.66M1679.5 353.4V385.84M1683.35 353.4V407.02M1687.19 353.4V402.43M1691.03 353.4V390.43M1694.88 353.4V379.69M1698.72 353.4V397.26M1702.57 353.4V407.99M1706.41 353.4V373.84M1710.26 353.4V400.19M1714.1 353.4V401.65" stroke="#6a00ff" stroke-width="1.8" fill="none"/>
<polyline points="1248.9,499.38 1252.74,552.82 1256.58,535.85 1260.42,530.48 1264.26,538.96 1268.1,479.59 1271.94,487.79 1275.78,471.11 1279.62,511.4 1283.46,522 1287.3,533.31 1291.14,547.16 1294.98,552.39 1298.82,462.63 1302.66,550.98 1306.5,562.29 1310.34,533.31 1314.18,523.41 1318.02,552.82 1321.86,557.34 1325.7,565.82 1329.54,565.11 1333.38,542.92 1337.22,510.41 1341.06,557.34 1344.9,565.82 1348.74,584.2 1352.58,548.86 1356.42,559.88 1360.26,503.34 1364.1,565.11 1367.94,539.25 1371.78,546.74 1375.62,498.68 1379.46,534.72 1383.3,527.65 1387.14,487.79 1390.98,535.85 1394.82,534.44" fill="none" stroke="#111" stroke-width="1"/>
<polyline points="1410.4,516.94 1414.24,494.63 1418.09,491.29 1421.93,498.69 1425.78,492.25 1429.62,462.43 1433.47,473.4 1437.31,479.96 1441.15,506.56 1445,481.51 1448.84,510.38 1452.69,500.24 1456.53,531.26 1460.38,466.24 1464.22,505.61 1468.06,508.59 1471.91,476.38 1475.75,494.28 1479.6,463.26 1483.44,457.3 1487.29,502.63 1491.13,485.57 1494.97,474.83 1498.82,484.38 1502.66,519.33 1506.51,517.3 1510.35,546.41 1514.2,489.86 1518.04,521.71 1521.88,455.51 1525.73,483.18 1529.57,468.39 1533.42,468.87 1537.26,465.29 1541.11,489.86 1544.95,481.99 1548.79,453.36 1552.64,508.23 1556.48,463.62 1560.33,508.95" fill="none" stroke="#111" stroke-width="1"/>
<polyline points="1564.17,482.22 1568.02,502.13 1571.86,502.13 1575.71,490.03 1579.55,497.83 1583.39,488.72 1587.24,460.75 1591.08,459.45 1594.93,495.88 1598.77,482.87 1602.62,524.51 1606.46,497.44 1610.3,504.34 1614.15,466.21 1617.99,475.71 1621.84,495.23 1625.68,461.4 1629.53,468.82 1633.37,488.72 1637.21,458.8 1641.06,469.21 1644.9,463.35 1648.75,467.25 1652.59,464.39 1656.44,511.5 1660.28,503.04 1664.12,531.67 1667.97,492.24 1671.81,511.24 1675.66,422.36 1679.5,493.28 1683.35,458.8 1687.19,477.66 1691.03,489.38 1694.88,509.54 1698.72,490.68 1702.57,452.29 1706.41,503.43 1710.26,448.39 1714.1,475.06" fill="none" stroke="#111" stroke-width="1"/>
<line x1="1248.9" y1="522.06" x2="1390.98" y2="543.03" stroke="#e23b3b" stroke-width="1"/>
<line x1="1414.24" y1="495.13" x2="1575.71" y2="482.45" stroke="#e23b3b" stroke-width="1"/>
<line x1="1548.79" y1="489.57" x2="1714.1" y2="477.6" stroke="#e23b3b" stroke-width="1"/>
<path d="M1248.9 353.4H1396.62M1407.7 353.4H1714.1" stroke="#222" stroke-width="1.25" fill="none"/>
<path d="M1248.9 353.4V585H1714.1V353.4M1248.9 570.5h3M1248.9 498h3M1248.9 425.5h3M1248.9 353h3M1714.1 353.4h-3M1714.1 423.6h-3M1714.1 493.8h-3M1714.1 564h-3M1264.26 585v-3M1341.06 585v-3M1483.44 585v-3M1560.33 585v-3M1637.21 585v-3" stroke="#5c5c5c" stroke-width="1.45" fill="none"/>
<path d="M1394.12 348.4l8.5 9.5M1402.12 348.4l8 8.5M1394.62 587.7l8 -5.2M1402.62 587.7l8.6 -5.4" stroke="#111" stroke-width="1.3" fill="none"/>
<text transform="translate(1244.9,575.3) scale(0.9,1)" font-size="15" text-anchor="end">5000</text>
<text transform="translate(1244.9,502.8) scale(0.9,1)" font-size="15" text-anchor="end">10000</text>
<text transform="translate(1244.9,430.3) scale(0.9,1)" font-size="15" text-anchor="end">15000</text>
<text transform="translate(1244.9,357.8) scale(0.9,1)" font-size="15" text-anchor="end">20000</text>
<text transform="translate(1718.1,358.2) scale(0.9,1)" font-size="15">0</text>
<text transform="translate(1718.1,428.4) scale(0.9,1)" font-size="15">3000</text>
<text transform="translate(1718.1,498.6) scale(0.9,1)" font-size="15">6000</text>
<text transform="translate(1718.1,568.8) scale(0.9,1)" font-size="15">9000</text>
<text transform="translate(1264.26,599) scale(0.9,1)" font-size="15" text-anchor="middle">1980</text>
<text transform="translate(1341.06,599) scale(0.9,1)" font-size="15" text-anchor="middle">2000</text>
<text transform="translate(1406.56,599) scale(0.9,1)" font-size="15" text-anchor="middle">2020</text>
<text transform="translate(1483.44,599) scale(0.9,1)" font-size="15" text-anchor="middle">2040</text>
<text transform="translate(1560.33,599) scale(0.9,1)" font-size="15" text-anchor="middle">2060</text>
<text transform="translate(1637.21,599) scale(0.9,1)" font-size="15" text-anchor="middle">2080</text>
<text transform="translate(1714.1,599) scale(0.9,1)" font-size="15" text-anchor="middle">2100</text>
<text x="1481.94" y="616.7" text-anchor="middle" font-size="14">Year</text>
<text transform="translate(1203.7,473.6) rotate(-90)" text-anchor="middle" font-size="14.1">Yearly discharge/( <tspan font-style="italic">m</tspan><tspan font-size="11.5" dy="-7">3</tspan><tspan dy="7">/s)</tspan></text>
<text transform="translate(1763.3,483.2) rotate(-90)" text-anchor="middle" font-size="14">Precipitation/<tspan font-style="italic">mm</tspan></text>
<text x="1250.1" y="339.6" font-size="13.67">SSP245-Tangnaihai hydrological station</text>
<text x="1176.4" y="327.6" font-family="Liberation Sans, Arial, sans-serif" font-weight="bold" font-size="39" fill="#000" stroke="#000">F</text>
<rect x="1272.1" y="391.8" width="31.4" height="12.8" fill="#6a00ff"/>
<text x="1306.1" y="402.8" font-size="13.85">Precipitation</text>
<line x1="1272.9" y1="416.8" x2="1303.4" y2="416.8" stroke="#e23b3b" stroke-width="1.2"/>
<text x="1306.4" y="421.3" font-size="13.8">Linear trend</text>
<line x1="1423.1" y1="416.8" x2="1453.6" y2="416.8" stroke="#111" stroke-width="1.1"/>
<text x="1456.6" y="421.3" font-size="14">Runoff</text>
<text transform="translate(1273.6,440.9) scale(0.978,1)" font-size="14.1"><tspan font-style="italic">Y</tspan>=-39.1<tspan font-style="italic">X</tspan>+85602.53</text>
<text transform="translate(1423.6,440.9) scale(0.978,1)" font-size="14.1"><tspan font-style="italic">Y</tspan>=20.82<tspan font-style="italic">X</tspan>-31899.78</text>
<text transform="translate(1580.5,441.3) scale(0.978,1)" font-size="14.1"><tspan font-style="italic">Y</tspan>=19.2<tspan font-style="italic">X</tspan>-28912.95</text>
<path d="M72.6 649.3v6.98M76.5 649.3v7.88M80.4 649.3v6.08M84.3 649.3v9.23M88.2 649.3v15.99M92.1 649.3v16.9M96 649.3v12.84M99.9 649.3v14.64M103.8 649.3v14.64M107.7 649.3v15.99M111.6 649.3v11.94M115.5 649.3v12.39M119.4 649.3v12.39M123.3 649.3v15.99M127.2 649.3v11.49M131.1 649.3v13.29M135 649.3v13.29M138.9 649.3v12.39M142.8 649.3v12.39M146.7 649.3v15.09M150.6 649.3v14.64M154.5 649.3v13.74M158.4 649.3v13.74M162.3 649.3v15.09M166.2 649.3v12.84M170.1 649.3v12.84M174 649.3v10.13M177.9 649.3v15.09M181.8 649.3v14.64M185.7 649.3v15.09M189.6 649.3v11.94M193.5 649.3v15.99M197.4 649.3v15.09M201.3 649.3v15.09M205.2 649.3v14.64M209.1 649.3v14.19M213 649.3v15.99M216.9 649.3v15.09M220.8 649.3v15.54M236.9 649.3V684.18M240.82 649.3V652.27M244.74 649.3V679.11M248.66 649.3V659.4M252.59 649.3V686.13M256.51 649.3V681.55M260.43 649.3V678.62M264.35 649.3V692.28M268.27 649.3V677.64M272.19 649.3V680.57M276.12 649.3V681.55M280.04 649.3V678.33M283.96 649.3V672.47M287.88 649.3V689.36M291.8 649.3V680.57M295.72 649.3V702.33M299.64 649.3V689.06M303.57 649.3V700.38M307.49 649.3V678.62M311.41 649.3V691.31M315.33 649.3V698.43M319.25 649.3V698.82M323.17 649.3V696.19M327.09 649.3V689.36M331.02 649.3V673.74M334.94 649.3V666.42M338.86 649.3V668.57M342.78 649.3V690.82M346.7 649.3V702.04M350.62 649.3V709.36M354.55 649.3V698.63M358.47 649.3V691.31M362.39 649.3V690.33M366.31 649.3V693.26M370.23 649.3V678.91M374.15 649.3V683.21M378.07 649.3V731.32M382 649.3V693.55M385.92 649.3V714.73M389.84 649.3V688.38M393.76 649.3V681.57M397.68 649.3V680.59M401.6 649.3V694.55M405.53 649.3V655.69M409.45 649.3V696.21M413.37 649.3V698.85M417.29 649.3V703.73M421.21 649.3V707.93M425.13 649.3V683.81M429.05 649.3V720.13M432.98 649.3V692.01M436.9 649.3V690.35M440.82 649.3V693.58M444.74 649.3V706.27M448.66 649.3V684.79M452.58 649.3V711.83M456.51 649.3V696.21M460.43 649.3V678.34M464.35 649.3V676M468.27 649.3V707.44M472.19 649.3V690.65M476.11 649.3V682.84M480.03 649.3V697.87M483.96 649.3V699.43M487.88 649.3V696.9M491.8 649.3V672.29M495.72 649.3V667.6M499.64 649.3V681.57M503.56 649.3V709.59M507.48 649.3V711.15M511.41 649.3V690.35M515.33 649.3V714.28M519.25 649.3V707.25M523.17 649.3V715.25M527.09 649.3V686.45M531.01 649.3V695.53M534.94 649.3V720.33M538.86 649.3V690.84M542.78 649.3V695.24M546.7 649.3V679.61" stroke="#6a00ff" stroke-width="1.8" fill="none"/>
<polyline points="72.6,837.11 76.5,860.81 80.4,857.72 84.3,860.81 88.2,857.2 92.1,838.66 96,836.91 99.9,828.35 103.8,843.29 107.7,853.08 111.6,863.69 115.5,863.38 119.4,866.47 123.3,830.93 127.2,856.17 131.1,862.35 135,859.57 138.9,840.72 142.8,860.81 146.7,864.93 150.6,867.51 154.5,865.96 158.4,856.17 162.3,848.65 166.2,857.2 170.1,867.51 174,869.57 177.9,860.81 181.8,866.47 185.7,843.5 189.6,860.29 193.5,847.41 197.4,847.21 201.3,826.29 205.2,845.15 209.1,852.05 213,838.35 216.9,850.51 220.8,851.02" fill="none" stroke="#111" stroke-width="1"/>
<polyline points="236.9,819.6 240.82,825.79 244.74,827.63 248.66,811.69 252.59,825.03 256.51,807.89 260.43,795.97 264.35,784.58 268.27,814.18 272.19,807.68 276.12,840.21 280.04,814.62 283.96,826.33 287.88,796.83 291.8,822.21 295.72,828.5 299.64,799.76 303.57,793.8 307.49,787.29 311.41,797.92 315.33,788.59 319.25,816.57 323.17,787.51 327.09,828.28 331.02,825.46 334.94,825.46 338.86,827.63 342.78,832.62 346.7,820.91 350.62,767.55 354.55,801.17 358.47,790.76 362.39,794.01 366.31,777.53 370.23,819.28 374.15,798.68 378.07,773.41 382,831.21 385.92,754.54 389.84,798.13" fill="none" stroke="#111" stroke-width="1"/>
<polyline points="393.76,794.64 397.68,823.27 401.6,815.76 405.53,809.2 409.45,811.82 413.37,787.48 417.29,792.49 421.21,770.78 425.13,815.4 429.05,799.41 432.98,813.37 436.9,810.99 440.82,814.21 444.74,768.39 448.66,797.27 452.58,826.14 456.51,783.55 460.43,813.01 464.35,808.24 468.27,785.93 472.19,800.61 476.11,829.24 480.03,802.63 483.96,791.9 487.88,791.06 491.8,821.36 495.72,804.42 499.64,825.3 503.56,823.51 507.48,761.24 511.41,787.72 515.33,781.52 519.25,809.2 523.17,794.64 527.09,811.34 531.01,811.34 534.94,799.06 538.86,844.39 542.78,785.93 546.7,806.81" fill="none" stroke="#111" stroke-width="1"/>
<line x1="72.6" y1="853.06" x2="216.9" y2="852.73" stroke="#e23b3b" stroke-width="1"/>
<line x1="240.82" y1="818.45" x2="405.53" y2="793.2" stroke="#e23b3b" stroke-width="1"/>
<line x1="378.07" y1="801.56" x2="546.7" y2="805.54" stroke="#e23b3b" stroke-width="1"/>
<path d="M72.6 649.3H222.6M234.2 649.3H546.7" stroke="#222" stroke-width="1.25" fill="none"/>
<path d="M72.6 649.3V884.7H546.7V649.3M72.6 884.7h3M72.6 823.5h3M72.6 762.3h3M72.6 701.1h3M546.7 649.3h-3M546.7 720.5h-3M546.7 791.7h-3M546.7 862.9h-3M88.2 884.7v-3M166.2 884.7v-3M311.41 884.7v-3M389.84 884.7v-3M468.27 884.7v-3" stroke="#5c5c5c" stroke-width="1.45" fill="none"/>
<path d="M220.1 644.3l8.5 9.5M228.1 644.3l8 8.5M220.6 887.4l8 -5.2M228.6 887.4l8.6 -5.4" stroke="#111" stroke-width="1.3" fill="none"/>
<text transform="translate(68.6,889.5) scale(0.9,1)" font-size="15" text-anchor="end">0</text>
<text transform="translate(68.6,828.3) scale(0.9,1)" font-size="15" text-anchor="end">3000</text>
<text transform="translate(68.6,767.1) scale(0.9,1)" font-size="15" text-anchor="end">6000</text>
<text transform="translate(68.6,705.9) scale(0.9,1)" font-size="15" text-anchor="end">9000</text>
<text transform="translate(550.7,654.1) scale(0.9,1)" font-size="15">0</text>
<text transform="translate(550.7,725.3) scale(0.9,1)" font-size="15">3000</text>
<text transform="translate(550.7,796.5) scale(0.9,1)" font-size="15">6000</text>
<text transform="translate(550.7,867.7) scale(0.9,1)" font-size="15">9000</text>
<text transform="translate(88.2,898.7) scale(0.9,1)" font-size="15" text-anchor="middle">1980</text>
<text transform="translate(166.2,898.7) scale(0.9,1)" font-size="15" text-anchor="middle">2000</text>
<text transform="translate(232.98,898.7) scale(0.9,1)" font-size="15" text-anchor="middle">2020</text>
<text transform="translate(311.41,898.7) scale(0.9,1)" font-size="15" text-anchor="middle">2040</text>
<text transform="translate(389.84,898.7) scale(0.9,1)" font-size="15" text-anchor="middle">2060</text>
<text transform="translate(468.27,898.7) scale(0.9,1)" font-size="15" text-anchor="middle">2080</text>
<text transform="translate(546.7,898.7) scale(0.9,1)" font-size="15" text-anchor="middle">2100</text>
<text x="309.91" y="916.4" text-anchor="middle" font-size="14">Year</text>
<text transform="translate(33.4,771.4) rotate(-90)" text-anchor="middle" font-size="14.1">Yearly discharge/( <tspan font-style="italic">m</tspan><tspan font-size="11.5" dy="-7">3</tspan><tspan dy="7">/s)</tspan></text>
<text transform="translate(594,780.6) rotate(-90)" text-anchor="middle" font-size="14">Precipitation/<tspan font-style="italic">mm</tspan></text>
<text x="73.8" y="634.7" font-size="13.87">SSP585-Jimai hydrological station</text>
<text x="1.65" y="627.6" font-family="Liberation Sans, Arial, sans-serif" font-weight="bold" font-size="39" fill="#000" stroke="#000">G</text>
<rect x="89.3" y="701" width="31.4" height="12.8" fill="#6a00ff"/>
<text x="123.3" y="712" font-size="13.85">Precipitation</text>
<line x1="90.1" y1="729.4" x2="120.6" y2="729.4" stroke="#e23b3b" stroke-width="1.2"/>
<text x="123.6" y="733.9" font-size="13.8">Linear trend</text>
<line x1="243.7" y1="729.4" x2="274.2" y2="729.4" stroke="#111" stroke-width="1.1"/>
<text x="277.2" y="733.9" font-size="14">Runoff</text>
<text transform="translate(92.5,752.6) scale(0.978,1)" font-size="14.1"><tspan font-style="italic">Y</tspan>=0.43<tspan font-style="italic">X</tspan>+701.33</text>
<text transform="translate(244.9,752.6) scale(0.978,1)" font-size="14.1"><tspan font-style="italic">Y</tspan>=29.47<tspan font-style="italic">X</tspan>-56340.85</text>
<text transform="translate(407.5,752.9) scale(0.978,1)" font-size="14.1"><tspan font-style="italic">Y</tspan>=-4.54<tspan font-style="italic">X</tspan>+13414.34</text>
<path d="M666.3 654.3v10.33M670.13 654.3v9.43M673.96 654.3v15.29M677.79 654.3v14.39M681.62 654.3v12.59M685.45 654.3v19.35M689.28 654.3v12.59M693.11 654.3v14.39M696.94 654.3v14.84M700.77 654.3v14.84M704.6 654.3v15.02M708.43 654.3v12.59M712.26 654.3v13.49M716.09 654.3v16.64M719.92 654.3v11.23M723.75 654.3v14.39M727.58 654.3v15.02M731.41 654.3v11.68M735.24 654.3v13.49M739.07 654.3v14.39M742.9 654.3v10.78M746.73 654.3v13.04M750.56 654.3v15.74M754.39 654.3v15.29M758.22 654.3v12.59M762.05 654.3v15.02M765.88 654.3v12.14M769.71 654.3v17.37M773.54 654.3v13.94M777.37 654.3v16.19M781.2 654.3v14.39M785.03 654.3v14.39M788.86 654.3v12.86M792.69 654.3v15.29M796.52 654.3v13.49M800.35 654.3v15.29M804.18 654.3v17.09M808.01 654.3v12.59M811.84 654.3v14.84M827.7 654.3V679.03M831.55 654.3V663.13M835.39 654.3V684.89M839.24 654.3V687.04M843.09 654.3V704.41M846.93 654.3V708.99M850.78 654.3V685.57M854.63 654.3V708.02M858.47 654.3V688.21M862.32 654.3V716.12M866.17 654.3V680.99M870.02 654.3V686.84M873.86 654.3V708.51M877.71 654.3V684.6M881.56 654.3V695.33M885.4 654.3V710.26M889.25 654.3V704.6M893.1 654.3V694.65M896.94 654.3V681.67M900.79 654.3V677.76M904.64 654.3V681.18M908.48 654.3V701.48M912.33 654.3V707.72M916.18 654.3V709.29M920.02 654.3V685.08M923.87 654.3V681.96M927.72 654.3V682.64M931.56 654.3V698.55M935.41 654.3V686.26M939.26 654.3V712.41M943.11 654.3V710.65M946.95 654.3V714.85M950.8 654.3V708.51M954.65 654.3V688.5M958.49 654.3V669.27M962.34 654.3V712.41M966.19 654.3V700.5M970.03 654.3V674.54M973.88 654.3V727.24M977.73 654.3V698.27M981.57 654.3V689M985.42 654.3V686.56M989.27 654.3V699.25M993.11 654.3V690.46M996.96 654.3V701.49M1000.81 654.3V710.67M1004.65 654.3V704.42M1008.5 654.3V695.83M1012.35 654.3V697.98M1016.19 654.3V711.45M1020.04 654.3V684.61M1023.89 654.3V696.32M1027.74 654.3V696.32M1031.58 654.3V693.1M1035.43 654.3V696.61M1039.28 654.3V708.72M1043.12 654.3V709.69M1046.97 654.3V674.36M1050.82 654.3V694.66M1054.66 654.3V677.77M1058.51 654.3V677.48M1062.36 654.3V695.64M1066.2 654.3V703.64M1070.05 654.3V712.23M1073.9 654.3V679.24M1077.74 654.3V685.88M1081.59 654.3V681.68M1085.44 654.3V697.59M1089.28 654.3V695.05M1093.13 654.3V709.5M1096.98 654.3V699.54M1100.83 654.3V716.53M1104.67 654.3V693.69M1108.52 654.3V684.61M1112.37 654.3V670.94M1116.21 654.3V718.09M1120.06 654.3V735.37M1123.91 654.3V681.97M1127.75 654.3V715.36M1131.6 654.3V701.49" stroke="#6a00ff" stroke-width="1.8" fill="none"/>
<polyline points="666.3,819.39 670.13,852.95 673.96,843.75 677.79,838.55 681.62,841.37 685.45,808.56 689.28,818.31 693.11,805.86 696.94,827.51 700.77,836.17 704.6,845.37 708.43,851.33 712.26,851.87 716.09,802.39 719.92,845.91 723.75,857.82 727.58,842.67 731.41,828.81 735.24,852.41 739.07,856.74 742.9,864.32 746.73,865.18 750.56,844.83 754.39,825.88 758.22,852.95 762.05,863.24 765.88,875.69 769.71,843.53 773.54,858.9 777.37,822.96 781.2,861.07 785.03,847 788.86,855.66 792.69,825.88 796.52,848.08 800.35,838.88 804.18,817.98 808.01,848.62 811.84,834" fill="none" stroke="#111" stroke-width="1"/>
<polyline points="827.7,821.97 831.55,822.26 835.39,814.65 839.24,804.89 843.09,819.72 846.93,800.01 850.78,788.79 854.63,780.98 858.47,808.31 862.32,805.09 866.17,840.51 870.02,824.41 873.86,815.14 877.71,803.43 881.56,815.43 885.4,827.53 889.25,793.38 893.1,799.23 896.94,797.28 900.79,795.33 904.64,795.33 908.48,812.5 912.33,790.25 916.18,808.6 920.02,828.8 923.87,830.07 927.72,835.34 931.56,814.85 935.41,810.26 939.26,776.1 943.11,812.5 946.95,800.01 950.8,798.84 954.65,789.76 958.49,823.63 962.34,795.91 966.19,772.2 970.03,822.46 973.88,770.73 977.73,804.42" fill="none" stroke="#111" stroke-width="1"/>
<polyline points="981.57,803.93 985.42,819.55 989.27,811.25 993.11,810.57 996.96,813.2 1000.81,790.26 1004.65,781.48 1008.5,777.57 1012.35,815.45 1016.19,799.54 1020.04,815.84 1023.89,817.59 1027.74,813.2 1031.58,783.23 1035.43,801 1039.28,813.2 1043.12,788.5 1046.97,815.84 1050.82,813.2 1054.66,789.29 1058.51,800.8 1062.36,821.99 1066.2,800.02 1070.05,792.21 1073.9,798.27 1077.74,818.57 1081.59,828.14 1085.44,818.38 1089.28,809.79 1093.13,771.52 1096.98,793.97 1100.83,790.46 1104.67,814.18 1108.52,802.17 1112.37,818.38 1116.21,810.27 1120.06,782.26 1123.91,841.51 1127.75,786.55 1131.6,803.93" fill="none" stroke="#111" stroke-width="1"/>
<line x1="666.3" y1="834.28" x2="808.01" y2="848.64" stroke="#e23b3b" stroke-width="1"/>
<line x1="831.55" y1="813.24" x2="993.11" y2="798.12" stroke="#e23b3b" stroke-width="1"/>
<line x1="966.19" y1="802.57" x2="1131.6" y2="806.72" stroke="#e23b3b" stroke-width="1"/>
<path d="M666.3 654.3H813.64M825 654.3H1131.6" stroke="#222" stroke-width="1.25" fill="none"/>
<path d="M666.3 654.3V885.3H1131.6V654.3M666.3 846.7h3M666.3 782.5h3M666.3 718.3h3M666.3 654.1h3M1131.6 654.3h-3M1131.6 724.4h-3M1131.6 794.5h-3M1131.6 864.6h-3M681.62 885.3v-3M758.22 885.3v-3M900.79 885.3v-3M977.73 885.3v-3M1054.66 885.3v-3" stroke="#5c5c5c" stroke-width="1.45" fill="none"/>
<path d="M811.14 649.3l8.5 9.5M819.14 649.3l8 8.5M811.64 888l8 -5.2M819.64 888l8.6 -5.4" stroke="#111" stroke-width="1.3" fill="none"/>
<text transform="translate(662.3,851.5) scale(0.9,1)" font-size="15" text-anchor="end">5000</text>
<text transform="translate(662.3,787.3) scale(0.9,1)" font-size="15" text-anchor="end">10000</text>
<text transform="translate(662.3,723.1) scale(0.9,1)" font-size="15" text-anchor="end">15000</text>
<text transform="translate(662.3,658.9) scale(0.9,1)" font-size="15" text-anchor="end">20000</text>
<text transform="translate(1135.6,659.1) scale(0.9,1)" font-size="15">0</text>
<text transform="translate(1135.6,729.2) scale(0.9,1)" font-size="15">3000</text>
<text transform="translate(1135.6,799.3) scale(0.9,1)" font-size="15">6000</text>
<text transform="translate(1135.6,869.4) scale(0.9,1)" font-size="15">9000</text>
<text transform="translate(681.62,899.3) scale(0.9,1)" font-size="15" text-anchor="middle">1980</text>
<text transform="translate(758.22,899.3) scale(0.9,1)" font-size="15" text-anchor="middle">2000</text>
<text transform="translate(823.85,899.3) scale(0.9,1)" font-size="15" text-anchor="middle">2020</text>
<text transform="translate(900.79,899.3) scale(0.9,1)" font-size="15" text-anchor="middle">2040</text>
<text transform="translate(977.73,899.3) scale(0.9,1)" font-size="15" text-anchor="middle">2060</text>
<text transform="translate(1054.66,899.3) scale(0.9,1)" font-size="15" text-anchor="middle">2080</text>
<text transform="translate(1131.6,899.3) scale(0.9,1)" font-size="15" text-anchor="middle">2100</text>
<text x="899.29" y="917" text-anchor="middle" font-size="14">Year</text>
<text transform="translate(621.7,773.5) rotate(-90)" text-anchor="middle" font-size="14.1">Yearly discharge/( <tspan font-style="italic">m</tspan><tspan font-size="11.5" dy="-7">3</tspan><tspan dy="7">/s)</tspan></text>
<text transform="translate(1179,783.7) rotate(-90)" text-anchor="middle" font-size="14">Precipitation/<tspan font-style="italic">mm</tspan></text>
<text x="667.3" y="640.1" font-size="13.56">SSP585-Maqu hydrological station</text>
<text x="596.05" y="627.3" font-family="Liberation Sans, Arial, sans-serif" font-weight="bold" font-size="39" fill="#000" stroke="#000">H</text>
<rect x="684.2" y="711.2" width="31.4" height="12.8" fill="#6a00ff"/>
<text x="718.2" y="722.2" font-size="13.85">Precipitation</text>
<line x1="685.1" y1="737.2" x2="715.6" y2="737.2" stroke="#e23b3b" stroke-width="1.2"/>
<text x="718.6" y="741.7" font-size="13.8">Linear trend</text>
<line x1="835.2" y1="737.2" x2="865.7" y2="737.2" stroke="#111" stroke-width="1.1"/>
<text x="868.7" y="741.7" font-size="14">Runoff</text>
<text transform="translate(688.3,762.1) scale(0.978,1)" font-size="14.1"><tspan font-style="italic">Y</tspan>=-30.23<tspan font-style="italic">X</tspan>+65701.63</text>
<text transform="translate(841.5,762.1) scale(0.978,1)" font-size="14.1"><tspan font-style="italic">Y</tspan>=28.03<tspan font-style="italic">X</tspan>-49070.65</text>
<text transform="translate(997.5,762.4) scale(0.978,1)" font-size="14.1"><tspan font-style="italic">Y</tspan>=-7.51<tspan font-style="italic">X</tspan>+23884.71</text>
<path d="M1250.9 655.6v8.73M1254.75 655.6v4.17M1258.6 655.6v5.81M1262.45 655.6v7.64M1266.3 655.6v6.72M1270.15 655.6v9.83M1274 655.6v8.91M1277.85 655.6v10.55M1281.7 655.6v8.91M1285.55 655.6v9.83M1289.4 655.6v9.64M1293.25 655.6v8.91M1297.1 655.6v9.19M1300.95 655.6v11.92M1304.8 655.6v8.27M1308.65 655.6v6.45M1312.5 655.6v9.46M1316.35 655.6v8.73M1320.2 655.6v9.83M1324.05 655.6v8.73M1327.9 655.6v8.27M1331.75 655.6v8.91M1335.6 655.6v8.73M1339.45 655.6v9.19M1343.3 655.6v6.45M1347.15 655.6v9.19M1351 655.6v8.73M1354.85 655.6v8.27M1358.7 655.6v8.73M1362.55 655.6v13.11M1366.4 655.6v9.64M1370.25 655.6v10.55M1374.1 655.6v11.92M1377.95 655.6v12.83M1381.8 655.6v10.37M1385.65 655.6v9.83M1389.5 655.6v10.74M1393.35 655.6v7.36M1397.2 655.6v9.83M1412.7 655.6V683.67M1416.56 655.6V672.93M1420.42 655.6V670.49M1424.27 655.6V667.37M1428.13 655.6V676.35M1431.99 655.6V680.74M1435.85 655.6V692.16M1439.71 655.6V695.09M1443.57 655.6V681.23M1447.42 655.6V700.55M1451.28 655.6V674.59M1455.14 655.6V688.84M1459 655.6V703.48M1462.86 655.6V694.4M1466.72 655.6V688.55M1470.57 655.6V675.57M1474.43 655.6V703.67M1478.29 655.6V699.58M1482.15 655.6V670.98M1486.01 655.6V699.28M1489.86 655.6V685.91M1493.72 655.6V693.72M1497.58 655.6V690.5M1501.44 655.6V703.19M1505.3 655.6V683.18M1509.16 655.6V669.52M1513.01 655.6V686.6M1516.87 655.6V685.33M1520.73 655.6V700.55M1524.59 655.6V706.41M1528.45 655.6V703.48M1532.31 655.6V719.29M1536.16 655.6V699.58M1540.02 655.6V716.36M1543.88 655.6V681.72M1547.74 655.6V696.06M1551.6 655.6V699.28M1555.45 655.6V679.47M1559.31 655.6V706.8M1563.17 655.6V698.82M1567.03 655.6V681.73M1570.89 655.6V678.51M1574.75 655.6V689.54M1578.6 655.6V673.63M1582.46 655.6V682.42M1586.32 655.6V680.46M1590.18 655.6V695.11M1594.04 655.6V705.65M1597.89 655.6V693.45M1601.75 655.6V692.47M1605.61 655.6V676.85M1609.47 655.6V699.01M1613.33 655.6V707.61M1617.19 655.6V699.31M1621.04 655.6V686.61M1624.9 655.6V682.71M1628.76 655.6V690.52M1632.62 655.6V677.34M1636.48 655.6V684.66M1640.34 655.6V693.16M1644.19 655.6V686.61M1648.05 655.6V685.34M1651.91 655.6V687.1M1655.77 655.6V691.01M1659.63 655.6V683.68M1663.48 655.6V670.02M1667.34 655.6V672.65M1671.2 655.6V692.96M1675.06 655.6V700.58M1678.92 655.6V708.58M1682.78 655.6V700.28M1686.63 655.6V724.4M1690.49 655.6V697.65M1694.35 655.6V695.69M1698.21 655.6V673.43M1702.07 655.6V707.8M1705.93 655.6V698.62M1709.78 655.6V671.48M1713.64 655.6V688.57M1717.5 655.6V690.52" stroke="#6a00ff" stroke-width="1.8" fill="none"/>
<polyline points="1250.9,801.88 1254.75,855.32 1258.6,838.35 1262.45,832.98 1266.3,841.46 1270.15,782.09 1274,790.29 1277.85,773.61 1281.7,813.9 1285.55,824.5 1289.4,835.81 1293.25,849.66 1297.1,854.89 1300.95,765.13 1304.8,853.48 1308.65,864.79 1312.5,835.81 1316.35,825.91 1320.2,855.32 1324.05,859.84 1327.9,868.32 1331.75,867.61 1335.6,845.42 1339.45,812.91 1343.3,859.84 1347.15,868.32 1351,886.7 1354.85,851.36 1358.7,862.38 1362.55,805.84 1366.4,867.61 1370.25,841.75 1374.1,849.24 1377.95,801.18 1381.8,837.22 1385.65,830.15 1389.5,790.29 1393.35,838.35 1397.2,836.94" fill="none" stroke="#111" stroke-width="1"/>
<polyline points="1412.7,810.38 1416.56,811.33 1420.42,798.69 1424.27,786.76 1428.13,816.11 1431.99,784.14 1435.85,765.65 1439.71,757.65 1443.57,794.87 1447.42,782.94 1451.28,843.54 1455.14,814.56 1459,799.41 1462.86,783.9 1466.72,803.82 1470.57,824.1 1474.43,770.78 1478.29,788.31 1482.15,793.44 1486.01,771.25 1489.86,781.99 1493.72,804.42 1497.58,773.4 1501.44,797.26 1505.3,832.09 1509.16,830.42 1513.01,834 1516.87,808.59 1520.73,803.22 1524.59,746.56 1528.45,797.26 1532.31,773.4 1536.16,776.98 1540.02,766.48 1543.88,819.69 1547.74,776.38 1551.6,752.17 1555.45,824.1 1559.31,748.35 1563.17,794.64" fill="none" stroke="#111" stroke-width="1"/>
<polyline points="1567.03,781.99 1570.89,808.24 1574.75,797.86 1578.6,794.28 1582.46,810.39 1586.32,771.26 1590.18,751.33 1594.04,750.14 1597.89,803.23 1601.75,782.71 1605.61,816.59 1609.47,805.38 1613.33,799.41 1617.19,763.62 1621.04,788.32 1624.9,806.21 1628.76,765.29 1632.62,812.54 1636.48,805.38 1640.34,771.26 1644.19,789.51 1648.05,813.01 1651.91,793.45 1655.77,780.32 1659.63,792.25 1663.48,813.73 1667.34,832.46 1671.2,812.77 1675.06,803.23 1678.92,745.37 1682.78,776.39 1686.63,759.69 1690.49,800.61 1694.35,785.57 1698.21,817.31 1702.07,787.12 1705.93,764.46 1709.78,848.57 1713.64,775.19 1717.5,802.04" fill="none" stroke="#111" stroke-width="1"/>
<line x1="1250.9" y1="824.56" x2="1393.35" y2="845.53" stroke="#e23b3b" stroke-width="1"/>
<line x1="1416.56" y1="799.96" x2="1578.6" y2="785.07" stroke="#e23b3b" stroke-width="1"/>
<line x1="1551.6" y1="786.18" x2="1717.5" y2="797.61" stroke="#e23b3b" stroke-width="1"/>
<path d="M1250.9 655.6H1399M1410 655.6H1717.5" stroke="#222" stroke-width="1.25" fill="none"/>
<path d="M1250.9 655.6V887.9H1717.5V655.6M1250.9 873h3M1250.9 800.5h3M1250.9 728h3M1250.9 655.5h3M1717.5 655.6h-3M1717.5 726h-3M1717.5 796.4h-3M1717.5 866.8h-3M1266.3 887.9v-3M1343.3 887.9v-3M1486.01 887.9v-3M1563.17 887.9v-3M1640.34 887.9v-3" stroke="#5c5c5c" stroke-width="1.45" fill="none"/>
<path d="M1396.5 650.6l8.5 9.5M1404.5 650.6l8 8.5M1397 890.6l8 -5.2M1405 890.6l8.6 -5.4" stroke="#111" stroke-width="1.3" fill="none"/>
<text transform="translate(1246.9,877.8) scale(0.9,1)" font-size="15" text-anchor="end">5000</text>
<text transform="translate(1246.9,805.3) scale(0.9,1)" font-size="15" text-anchor="end">10000</text>
<text transform="translate(1246.9,732.8) scale(0.9,1)" font-size="15" text-anchor="end">15000</text>
<text transform="translate(1246.9,660.3) scale(0.9,1)" font-size="15" text-anchor="end">20000</text>
<text transform="translate(1721.5,660.4) scale(0.9,1)" font-size="15">0</text>
<text transform="translate(1721.5,730.8) scale(0.9,1)" font-size="15">3000</text>
<text transform="translate(1721.5,801.2) scale(0.9,1)" font-size="15">6000</text>
<text transform="translate(1721.5,871.6) scale(0.9,1)" font-size="15">9000</text>
<text transform="translate(1266.3,901.9) scale(0.9,1)" font-size="15" text-anchor="middle">1980</text>
<text transform="translate(1343.3,901.9) scale(0.9,1)" font-size="15" text-anchor="middle">2000</text>
<text transform="translate(1408.84,901.9) scale(0.9,1)" font-size="15" text-anchor="middle">2020</text>
<text transform="translate(1486.01,901.9) scale(0.9,1)" font-size="15" text-anchor="middle">2040</text>
<text transform="translate(1563.17,901.9) scale(0.9,1)" font-size="15" text-anchor="middle">2060</text>
<text transform="translate(1640.34,901.9) scale(0.9,1)" font-size="15" text-anchor="middle">2080</text>
<text transform="translate(1717.5,901.9) scale(0.9,1)" font-size="15" text-anchor="middle">2100</text>
<text x="1484.51" y="919.6" text-anchor="middle" font-size="14">Year</text>
<text transform="translate(1206.2,775.3) rotate(-90)" text-anchor="middle" font-size="14.1">Yearly discharge/( <tspan font-style="italic">m</tspan><tspan font-size="11.5" dy="-7">3</tspan><tspan dy="7">/s)</tspan></text>
<text transform="translate(1764.8,784) rotate(-90)" text-anchor="middle" font-size="14">Precipitation/<tspan font-style="italic">mm</tspan></text>
<text x="1252.8" y="640.3" font-size="13.71">SSP585-Tangnaihai hydrological station</text>
<text x="1184.5" y="627.8" font-family="Liberation Sans, Arial, sans-serif" font-weight="bold" font-size="39" fill="#000" stroke="#000">I</text>
<rect x="1275.5" y="695.5" width="31.4" height="12.8" fill="#6a00ff"/>
<text x="1309.5" y="706.5" font-size="13.85">Precipitation</text>
<line x1="1276.3" y1="720.5" x2="1306.8" y2="720.5" stroke="#e23b3b" stroke-width="1.2"/>
<text x="1309.8" y="725" font-size="13.8">Linear trend</text>
<line x1="1427" y1="720.5" x2="1457.5" y2="720.5" stroke="#111" stroke-width="1.1"/>
<text x="1460.5" y="725" font-size="14">Runoff</text>
<text transform="translate(1277.5,744.3) scale(0.978,1)" font-size="14.1"><tspan font-style="italic">Y</tspan>=-39.1<tspan font-style="italic">X</tspan>+85602.53</text>
<text transform="translate(1431.6,744.3) scale(0.978,1)" font-size="14.1"><tspan font-style="italic">Y</tspan>=24.45<tspan font-style="italic">X</tspan>-39400.56</text>
<text transform="translate(1584.9,744.3) scale(0.978,1)" font-size="14.1"><tspan font-style="italic">Y</tspan>=-18.34<tspan font-style="italic">X</tspan>+48713.15</text>
</svg></body></html>
